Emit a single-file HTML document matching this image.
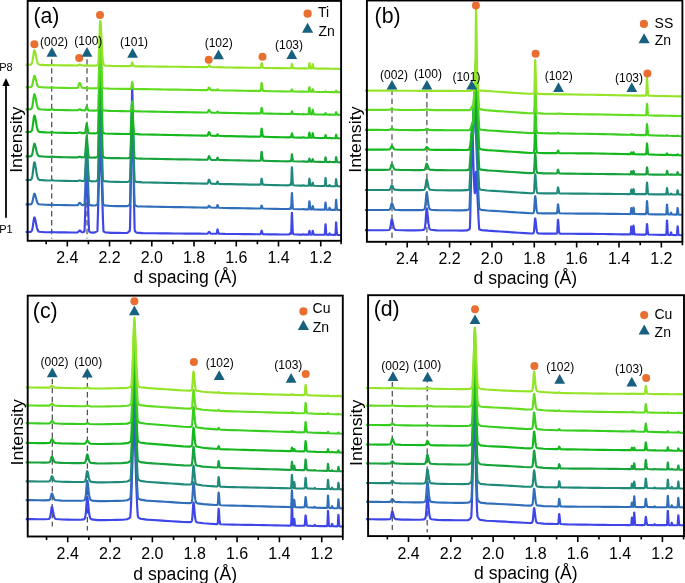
<!DOCTYPE html>
<html lang="en">
<head>
<meta charset="utf-8">
<title>XRD d-spacing patterns</title>
<style>
html,body{margin:0;padding:0;background:#fff;}
body{width:685px;height:583px;overflow:hidden;}
svg{display:block;will-change:transform;}
</style>
</head>
<body>
<svg width="685" height="583" viewBox="0 0 685 583" font-family='"Liberation Sans", sans-serif' fill="#000">
<rect width="685" height="583" fill="#fff"/>
<path d="M51.70,59.20V238.60" stroke="#505050" stroke-width="1.25" stroke-dasharray="5.45 3.48" fill="none"/>
<path d="M87.00,59.20V238.60" stroke="#505050" stroke-width="1.25" stroke-dasharray="5.45 3.48" fill="none"/>
<g fill="none" stroke-width="2.15" stroke-linejoin="round" stroke-linecap="butt">
<path stroke="#3e46e8" d="M25.65,232.03L30.45,231.86L31.05,231.64L31.45,231.28L31.85,230.58L32.25,229.33L32.65,227.38L33.85,219.12L34.05,218.16L34.25,217.59L34.40,217.46L34.65,217.65L34.85,218.07L35.25,219.48L36.85,227.47L37.45,229.53L37.85,230.45L38.25,231.07L38.65,231.47L39.25,231.79L45.45,232.20L50.65,232.25L51.25,232.07L51.65,231.86L52.05,231.81L53.45,232.27L59.65,232.38L65.65,232.44L71.85,232.50L77.25,232.47L77.85,232.26L78.25,231.93L79.25,230.64L79.45,230.51L79.65,230.48L80.05,230.62L81.45,231.88L82.05,232.18L82.65,232.23L83.45,231.98L84.45,231.35L84.65,228.58L85.25,211.57L86.45,165.60L86.65,160.88L86.70,160.64L86.85,162.33L88.45,216.36L88.85,226.65L89.05,230.42L89.25,231.63L90.45,232.31L93.05,232.65L95.05,232.38L96.65,231.64L97.25,231.23L97.45,230.39L100.05,144.37L100.25,140.93L100.30,140.77L100.45,141.94L100.65,146.25L103.05,221.87L103.45,230.92L103.65,231.51L105.25,232.38L111.45,232.87L117.65,232.93L123.85,232.99L126.85,232.87L127.85,232.54L128.65,231.97L129.85,230.47L130.05,225.39L130.45,206.08L132.05,90.94L132.20,87.07L132.25,87.45L132.45,95.24L134.05,202.38L134.45,221.51L134.65,228.38L134.85,230.96L135.85,232.13L136.65,232.67L142.85,233.17L149.05,233.22L155.25,233.28L161.45,233.34L167.65,233.39L173.85,233.45L180.05,233.51L186.25,233.57L192.45,233.62L198.65,233.68L204.85,233.73L207.25,233.70L207.65,233.57L208.05,233.19L208.65,232.17L208.85,231.93L209.05,231.88L209.25,231.96L210.45,233.33L210.85,233.59L216.25,233.79L216.45,233.73L216.65,233.51L216.85,232.94L217.25,230.41L217.45,229.50L217.50,229.45L217.65,229.66L218.25,232.40L218.45,233.08L218.65,233.49L218.85,233.69L225.05,233.92L231.25,233.98L237.45,234.04L243.65,234.10L249.85,234.15L256.05,234.21L260.25,234.20L260.45,234.15L260.65,234.00L260.85,233.62L261.05,232.87L261.45,230.92L261.60,230.66L261.65,230.68L261.85,231.03L262.45,233.15L262.65,233.65L262.85,233.95L263.05,234.12L269.25,234.33L275.45,234.39L281.65,234.45L287.85,234.49L289.05,234.45L289.25,234.35L289.45,234.13L289.85,233.44L290.05,233.34L290.25,233.45L290.65,233.86L290.85,233.92L291.05,233.42L291.25,231.31L291.45,226.14L291.65,218.45L291.85,213.01L291.90,212.74L292.05,213.96L292.65,228.90L292.85,231.90L293.05,233.41L293.25,234.04L293.45,234.28L299.65,234.61L302.65,234.60L303.25,234.32L303.45,234.30L304.45,234.62L308.25,234.67L308.45,234.64L308.65,234.48L308.85,233.90L309.25,231.25L309.40,230.80L309.45,230.83L309.65,231.43L310.05,233.48L310.25,234.15L310.45,234.50L310.65,234.63L311.65,234.69L311.85,234.61L312.05,234.29L312.25,233.39L312.45,231.94L312.65,230.88L312.70,230.83L312.85,231.07L313.45,233.89L313.65,234.39L313.85,234.62L320.05,234.80L324.45,234.78L324.65,234.64L324.85,233.95L325.05,231.69L325.45,224.42L325.50,224.25L325.65,224.98L326.05,230.71L326.25,232.96L326.45,234.15L326.65,234.62L326.85,234.77L328.65,234.85L328.85,234.76L329.05,234.43L329.45,233.40L329.50,233.38L329.65,233.49L330.25,234.63L330.45,234.80L334.85,234.90L335.05,234.87L335.25,234.71L335.45,233.88L335.65,231.22L336.05,222.64L336.10,222.45L336.25,223.31L336.65,230.06L336.85,232.72L337.05,234.12L337.25,234.68L337.45,234.86L341.85,235.00"/>
<path stroke="#316eba" d="M25.65,204.43L30.65,204.32L31.25,204.09L31.65,203.71L32.05,203.01L32.45,201.84L33.85,194.94L34.05,194.23L34.25,193.81L34.45,193.72L34.65,193.86L34.85,194.17L35.25,195.22L36.85,201.17L37.45,202.70L37.85,203.39L38.25,203.85L38.85,204.25L45.05,204.75L50.65,204.85L51.25,204.67L51.65,204.46L52.05,204.42L53.45,204.89L59.65,205.05L65.65,205.16L71.85,205.27L77.25,205.27L77.65,205.14L78.05,204.84L79.25,203.01L79.45,202.85L79.65,202.81L79.85,202.87L80.25,203.18L81.45,204.58L82.05,204.99L82.65,205.12L83.65,204.91L84.45,204.51L84.65,202.40L85.25,189.41L86.45,154.32L86.65,150.71L86.70,150.52L86.85,151.82L88.45,193.11L88.85,200.98L89.05,203.86L89.25,204.78L90.85,205.42L94.65,205.55L96.05,205.20L97.65,204.17L97.85,201.68L100.05,118.23L100.25,113.98L100.30,113.77L100.45,115.26L102.65,192.40L103.05,203.22L103.25,204.52L104.65,205.40L110.85,205.96L117.05,206.07L123.25,206.18L127.25,206.08L128.25,205.76L129.25,205.10L129.85,204.53L130.05,201.05L130.45,187.83L132.05,108.99L132.20,106.33L132.25,106.60L132.45,111.94L134.05,185.34L134.45,198.44L134.65,203.15L134.85,204.92L136.05,205.85L137.45,206.31L143.65,206.53L149.85,206.64L155.85,206.75L162.05,206.86L168.25,206.97L174.45,207.08L180.65,207.18L186.85,207.29L193.05,207.40L199.25,207.51L205.45,207.61L207.25,207.59L207.65,207.47L208.05,207.08L208.65,206.07L208.85,205.84L209.05,205.79L209.25,205.87L210.45,207.24L210.85,207.51L216.25,207.77L216.45,207.73L216.65,207.60L216.85,207.24L217.25,205.64L217.45,205.06L217.50,205.03L217.65,205.16L218.25,206.91L218.45,207.35L218.65,207.61L218.85,207.74L225.05,207.96L231.25,208.07L237.45,208.18L243.65,208.29L249.85,208.40L256.05,208.51L260.25,208.54L260.45,208.50L260.65,208.37L260.85,208.04L261.05,207.40L261.45,205.72L261.60,205.50L261.65,205.52L261.85,205.82L262.45,207.66L262.65,208.08L262.85,208.35L263.05,208.49L269.25,208.74L275.45,208.85L281.65,208.95L287.85,209.05L289.05,209.03L289.25,208.97L289.45,208.82L289.85,208.36L290.05,208.29L290.25,208.36L290.65,208.65L290.85,208.68L291.05,208.31L291.25,206.74L291.45,202.92L291.65,197.25L291.85,193.23L291.90,193.04L292.05,193.94L292.65,204.98L292.85,207.19L293.05,208.31L293.25,208.78L293.45,208.95L299.65,209.26L302.65,209.28L303.25,209.01L303.45,208.99L304.45,209.31L308.25,209.38L308.45,209.31L308.65,208.96L308.85,207.76L309.25,202.18L309.40,201.24L309.45,201.30L309.65,202.56L310.05,206.87L310.25,208.28L310.45,209.01L310.65,209.30L310.85,209.39L311.65,209.44L311.85,209.37L312.05,209.10L312.25,208.32L312.45,207.06L312.65,206.14L312.70,206.09L312.85,206.30L313.45,208.77L313.65,209.21L313.85,209.40L320.05,209.63L324.45,209.66L324.65,209.57L324.85,209.10L325.05,207.57L325.45,202.63L325.50,202.52L325.65,203.02L326.05,206.91L326.25,208.45L326.45,209.26L326.65,209.58L326.85,209.69L328.65,209.75L328.85,209.62L329.05,209.19L329.45,207.82L329.50,207.79L329.65,207.93L330.25,209.46L330.45,209.69L330.85,209.81L335.05,209.83L335.25,209.70L335.45,209.04L335.65,206.89L336.05,199.96L336.10,199.81L336.25,200.51L336.65,205.96L336.85,208.11L337.05,209.25L337.25,209.70L337.45,209.85L341.85,210.01"/>
<path stroke="#1f8a7a" d="M25.65,180.00L30.25,179.87L30.85,179.69L31.25,179.39L31.65,178.78L32.05,177.62L32.45,175.69L33.85,164.34L34.05,163.18L34.25,162.49L34.40,162.34L34.65,162.57L34.85,163.08L35.25,164.80L36.85,174.55L37.45,177.06L37.85,178.18L38.25,178.94L38.65,179.42L39.25,179.82L45.45,180.38L50.65,180.50L51.25,180.32L51.65,180.11L52.05,180.07L53.45,180.54L59.65,180.73L65.65,180.85L71.85,180.98L77.65,181.03L79.45,180.40L80.25,180.51L81.85,181.01L83.25,180.98L84.45,180.62L84.65,180.15L85.05,174.92L86.45,146.13L86.65,143.42L86.70,143.28L86.85,144.27L88.45,174.09L88.85,179.37L89.05,180.75L91.45,181.33L95.25,181.30L96.45,180.93L97.85,179.93L98.05,176.31L100.05,94.57L100.25,89.80L100.30,89.56L100.45,91.24L102.65,173.02L102.85,178.53L103.05,180.30L104.25,181.13L110.45,181.76L116.65,181.89L122.85,182.01L127.45,181.95L128.65,181.58L129.85,180.83L130.05,178.23L130.45,168.31L132.05,109.19L132.20,107.20L132.25,107.40L132.45,111.40L134.05,166.47L134.45,176.30L134.65,179.83L134.85,181.16L136.25,181.94L142.45,182.41L148.65,182.53L154.85,182.66L161.05,182.78L167.25,182.91L173.45,183.03L179.65,183.15L185.85,183.28L192.05,183.40L198.25,183.53L204.45,183.64L207.05,183.63L207.45,183.49L207.65,183.30L207.85,182.97L208.25,181.79L208.65,180.27L208.85,179.77L209.00,179.64L209.25,179.83L209.65,180.71L210.25,182.35L210.65,183.10L211.05,183.50L211.65,183.72L216.25,183.85L216.45,183.82L216.65,183.71L216.85,183.40L217.25,182.03L217.45,181.53L217.50,181.51L217.65,181.62L218.25,183.13L218.45,183.51L218.65,183.73L219.05,183.89L225.25,184.07L231.45,184.19L237.65,184.32L243.85,184.44L250.05,184.57L256.25,184.69L260.25,184.69L260.45,184.61L260.65,184.36L260.85,183.70L261.05,182.44L261.45,179.14L261.60,178.70L261.65,178.73L261.85,179.32L262.45,182.92L262.65,183.76L262.85,184.28L263.05,184.56L263.25,184.69L269.45,184.96L275.65,185.08L281.85,185.21L288.05,185.32L289.05,185.30L289.25,185.24L289.45,185.09L289.85,184.62L290.05,184.55L290.25,184.62L290.65,184.90L290.85,184.92L291.05,184.49L291.25,182.73L291.45,178.43L291.65,172.04L291.85,167.53L291.90,167.31L292.05,168.32L292.65,180.73L292.85,183.23L293.05,184.48L293.25,185.01L293.45,185.21L299.65,185.56L302.65,185.58L303.25,185.31L303.45,185.29L304.45,185.62L308.25,185.70L308.45,185.64L308.65,185.34L308.85,184.30L309.25,179.47L309.40,178.66L309.45,178.71L309.65,179.80L310.05,183.53L310.25,184.76L310.45,185.39L310.65,185.64L311.65,185.77L311.85,185.71L312.05,185.46L312.25,184.75L312.45,183.60L312.65,182.76L312.70,182.72L312.85,182.91L313.45,185.16L313.65,185.56L313.85,185.74L320.05,185.97L324.45,186.02L324.65,185.91L324.85,185.38L325.05,183.66L325.45,178.11L325.50,177.98L325.65,178.55L326.05,182.92L326.25,184.65L326.45,185.56L326.65,185.92L326.85,186.04L328.65,186.13L328.85,186.06L329.05,185.82L329.45,185.07L329.65,185.14L330.25,185.98L330.45,186.11L335.05,186.23L335.25,186.15L335.45,185.68L335.65,184.17L336.05,179.31L336.10,179.20L336.25,179.69L336.65,183.53L336.85,185.04L337.05,185.84L337.25,186.16L337.45,186.26L341.85,186.41"/>
<path stroke="#17a33c" d="M25.65,156.42L30.45,156.32L31.05,156.13L31.45,155.82L31.85,155.21L32.25,154.12L32.65,152.41L33.85,145.17L34.05,144.33L34.25,143.84L34.40,143.72L34.65,143.90L34.85,144.26L35.25,145.50L36.85,152.54L37.45,154.35L37.85,155.16L38.25,155.71L38.85,156.18L45.05,156.76L50.65,156.87L51.25,156.69L51.65,156.48L52.05,156.44L53.45,156.91L59.65,157.08L65.65,157.20L71.85,157.31L77.65,157.35L79.45,156.72L80.25,156.82L82.05,157.39L84.25,157.30L84.65,157.21L84.85,157.01L85.05,155.61L85.85,146.32L86.45,137.93L86.65,136.09L86.70,135.99L86.85,136.68L88.25,153.36L88.65,156.68L88.85,157.31L95.05,157.66L96.25,157.39L97.25,156.83L97.85,156.33L98.05,155.52L100.05,71.28L100.25,66.10L100.30,65.84L100.45,67.68L102.45,146.35L102.65,152.61L102.85,156.51L104.05,157.40L105.65,157.86L111.85,158.06L118.05,158.17L124.25,158.29L128.25,158.20L129.85,157.63L130.05,157.53L130.25,155.84L130.65,148.44L132.05,110.03L132.20,108.43L132.25,108.59L132.45,111.76L133.85,147.46L134.25,154.72L134.45,157.19L134.65,157.78L136.25,158.36L142.45,158.62L148.65,158.74L154.85,158.85L161.05,158.97L167.25,159.08L173.45,159.20L179.65,159.31L185.85,159.43L192.05,159.54L198.25,159.65L204.45,159.76L207.05,159.75L207.45,159.63L207.65,159.46L207.85,159.16L208.25,158.09L208.65,156.72L208.85,156.27L209.05,156.16L209.25,156.32L209.65,157.12L210.25,158.60L210.65,159.27L211.05,159.64L211.85,159.85L216.25,159.95L216.45,159.92L216.65,159.81L216.85,159.50L217.25,158.13L217.45,157.63L217.50,157.61L217.65,157.72L218.25,159.23L218.45,159.60L218.65,159.82L219.05,159.99L225.25,160.15L231.45,160.27L237.65,160.38L243.85,160.50L250.05,160.61L256.25,160.72L260.05,160.72L260.25,160.68L260.45,160.56L260.65,160.17L260.85,159.20L261.05,157.32L261.45,152.38L261.60,151.73L261.65,151.77L261.85,152.65L262.45,158.02L262.65,159.26L262.85,160.03L263.05,160.45L263.25,160.64L269.45,160.97L275.65,161.09L281.85,161.20L288.05,161.31L289.25,161.28L289.85,160.96L290.05,160.93L290.85,161.16L291.05,161.01L291.25,160.32L291.45,158.64L291.65,156.14L291.85,154.38L291.90,154.29L292.05,154.69L292.65,159.56L292.85,160.54L293.05,161.04L293.25,161.25L299.45,161.53L302.65,161.55L303.25,161.28L303.45,161.25L304.45,161.58L308.45,161.65L308.65,161.52L308.85,161.07L309.25,158.96L309.40,158.61L309.45,158.63L309.65,159.11L310.05,160.75L310.25,161.28L310.45,161.56L310.65,161.67L311.65,161.73L311.85,161.68L312.05,161.47L312.25,160.87L312.45,159.91L312.65,159.20L312.70,159.17L312.85,159.33L313.45,161.22L313.65,161.56L313.85,161.71L320.05,161.91L324.45,161.96L324.65,161.91L324.85,161.61L325.05,160.63L325.45,157.48L325.50,157.41L325.65,157.73L326.25,161.20L326.45,161.72L326.65,161.93L328.65,162.06L328.85,162.03L329.05,161.92L329.50,161.58L329.65,161.62L330.25,162.01L335.05,162.16L335.25,162.09L335.45,161.76L335.65,160.68L336.05,157.18L336.10,157.11L336.25,157.46L336.85,161.31L337.05,161.88L337.25,162.11L341.85,162.31"/>
<path stroke="#14b81e" d="M25.65,132.00L30.25,131.89L30.85,131.72L31.25,131.44L31.65,130.87L32.05,129.79L32.45,128.00L33.85,117.41L34.05,116.33L34.25,115.68L34.40,115.54L34.65,115.76L34.85,116.23L35.25,117.84L36.85,126.93L37.45,129.28L37.85,130.32L38.25,131.03L38.65,131.48L39.25,131.86L45.45,132.39L50.65,132.48L51.05,132.35L51.65,131.89L51.90,131.81L52.25,131.91L53.25,132.46L59.45,132.72L65.65,132.85L71.85,132.98L77.65,133.03L79.45,132.40L80.25,132.51L82.25,133.11L84.85,133.10L85.05,133.04L85.25,132.36L86.45,124.73L86.65,123.74L86.70,123.68L86.85,124.07L88.05,131.33L88.45,132.98L88.65,133.19L94.85,133.41L96.25,133.22L97.25,132.73L98.05,132.05L98.25,130.33L100.05,49.60L100.25,43.86L100.30,43.56L100.45,45.63L102.25,120.79L102.45,127.58L102.65,132.24L103.65,133.05L104.85,133.51L111.05,133.77L117.25,133.90L123.45,134.02L129.25,133.99L130.25,133.74L130.45,133.57L130.65,131.87L131.25,123.09L132.05,108.28L132.20,107.10L132.25,107.22L132.45,109.50L133.45,126.30L133.85,131.43L134.05,133.25L134.25,133.86L140.45,134.37L146.65,134.49L152.85,134.62L158.85,134.74L165.05,134.86L171.25,134.99L177.45,135.11L183.65,135.23L189.85,135.36L196.05,135.48L202.25,135.60L207.05,135.64L207.45,135.51L207.65,135.34L207.85,135.05L208.25,133.98L208.65,132.61L208.85,132.16L209.05,132.05L209.25,132.21L209.65,133.01L210.25,134.49L210.65,135.17L211.05,135.53L211.85,135.75L216.45,135.84L216.65,135.77L216.85,135.57L217.25,134.66L217.45,134.33L217.65,134.39L218.25,135.40L218.45,135.65L218.65,135.80L224.85,136.06L231.05,136.19L237.25,136.31L243.45,136.44L249.65,136.56L255.85,136.68L260.05,136.70L260.25,136.67L260.45,136.56L260.65,136.22L260.85,135.35L261.05,133.68L261.45,129.28L261.60,128.70L261.65,128.74L261.85,129.52L262.45,134.30L262.65,135.41L262.85,136.10L263.05,136.47L263.25,136.64L269.45,136.95L275.65,137.08L281.85,137.21L288.05,137.33L289.25,137.32L290.05,137.11L290.85,137.26L291.05,137.18L291.25,136.79L291.45,135.82L291.65,134.38L291.85,133.36L291.90,133.31L292.05,133.54L292.65,136.36L292.85,136.93L293.05,137.22L293.25,137.34L299.45,137.56L302.65,137.58L303.25,137.32L303.45,137.29L304.45,137.62L308.25,137.71L308.45,137.67L308.65,137.46L308.85,136.71L309.25,133.24L309.40,132.66L309.45,132.70L309.65,133.48L310.05,136.16L310.25,137.05L310.45,137.50L310.65,137.68L311.65,137.76L311.85,137.67L312.05,137.30L312.25,136.24L312.45,134.53L312.65,133.28L312.70,133.22L312.85,133.51L313.45,136.84L313.65,137.43L313.85,137.70L314.05,137.80L320.25,137.98L324.45,138.05L324.65,138.01L324.85,137.83L325.05,137.21L325.45,135.23L325.50,135.19L325.65,135.39L326.25,137.58L326.45,137.91L326.65,138.04L328.85,138.12L329.50,137.81L330.45,138.16L335.05,138.26L335.25,138.21L335.45,137.98L335.65,137.22L336.05,134.75L336.10,134.70L336.25,134.95L336.85,137.67L337.05,138.08L337.25,138.24L341.85,138.41"/>
<path stroke="#36cd20" d="M25.65,109.41L30.45,109.27L31.05,109.04L31.45,108.67L31.85,107.94L32.25,106.63L32.65,104.59L33.85,95.94L34.05,94.95L34.25,94.35L34.40,94.22L34.65,94.42L34.85,94.85L35.25,96.34L36.85,104.72L37.45,106.88L37.85,107.85L38.25,108.50L38.65,108.92L39.25,109.26L45.45,109.74L50.45,109.83L50.85,109.73L51.25,109.40L51.65,108.92L51.90,108.79L52.25,108.93L53.05,109.62L53.65,109.86L59.85,110.04L66.05,110.15L72.25,110.26L77.45,110.29L78.05,110.13L79.25,109.37L79.65,109.29L80.25,109.46L81.85,110.23L85.05,110.41L85.25,110.28L85.65,109.39L86.45,106.91L86.65,106.44L86.70,106.41L86.85,106.60L88.05,109.89L88.25,110.27L88.45,110.48L94.65,110.64L96.45,110.52L97.45,110.14L98.25,109.53L98.45,108.47L100.05,41.80L100.25,36.06L100.30,35.75L100.45,37.87L102.05,100.28L102.25,106.51L102.45,109.70L103.45,110.40L109.65,110.91L115.85,111.02L122.05,111.13L128.25,111.23L130.85,111.10L131.05,110.36L131.65,105.74L132.05,102.01L132.20,101.30L132.25,101.38L133.25,109.17L133.45,110.35L133.65,111.14L139.85,111.43L146.05,111.54L152.25,111.65L158.45,111.75L164.65,111.86L170.85,111.97L177.05,112.07L183.25,112.18L189.45,112.29L195.65,112.39L201.85,112.50L207.25,112.51L207.65,112.33L207.85,112.11L208.25,111.33L208.65,110.34L208.85,110.00L209.05,109.93L209.25,110.05L210.45,111.99L210.85,112.36L211.45,112.59L216.45,112.72L216.65,112.67L216.85,112.53L217.25,111.90L217.50,111.67L217.65,111.72L218.45,112.59L218.85,112.75L225.05,112.90L231.25,113.01L237.45,113.11L243.65,113.22L249.85,113.33L256.05,113.43L260.25,113.43L260.45,113.36L260.65,113.12L260.85,112.52L261.05,111.37L261.45,108.33L261.60,107.93L261.65,107.96L261.85,108.50L262.45,111.80L262.65,112.57L262.85,113.05L263.05,113.30L263.25,113.43L269.45,113.66L275.65,113.77L281.85,113.88L288.05,113.98L289.25,113.98L290.05,113.81L290.85,113.94L291.05,113.90L291.25,113.65L291.45,113.04L291.65,112.13L291.85,111.48L291.90,111.45L292.05,111.60L292.65,113.39L292.85,113.75L293.05,113.94L299.25,114.18L302.65,114.20L303.25,113.92L303.45,113.90L304.45,114.23L308.25,114.30L308.45,114.24L308.65,113.97L308.85,113.00L309.25,108.51L309.40,107.75L309.45,107.80L309.65,108.81L310.05,112.28L310.25,113.42L310.45,114.00L310.65,114.24L311.45,114.35L311.65,114.34L311.85,114.26L312.05,113.88L312.25,112.82L312.45,111.11L312.65,109.86L312.70,109.80L312.85,110.09L313.45,113.42L313.65,114.01L313.85,114.28L314.05,114.37L320.25,114.54L324.65,114.59L324.85,114.49L325.05,114.18L325.45,113.15L325.50,113.13L325.65,113.24L326.25,114.37L326.45,114.55L328.85,114.67L329.50,114.55L335.05,114.78L335.25,114.75L335.45,114.58L335.65,114.03L336.05,112.25L336.10,112.21L336.25,112.39L336.85,114.36L337.05,114.66L337.25,114.77L341.85,114.91"/>
<path stroke="#64dc20" d="M25.65,87.23L30.45,87.13L31.05,86.97L31.45,86.69L31.85,86.13L32.25,85.15L32.65,83.62L33.85,77.11L34.05,76.36L34.25,75.91L34.45,75.81L34.65,75.96L34.85,76.29L35.25,77.41L36.85,83.73L37.45,85.36L37.85,86.09L38.25,86.58L38.85,87.00L45.05,87.52L51.25,87.65L57.45,87.76L63.65,87.86L69.65,87.96L75.85,88.03L77.05,87.96L77.45,87.79L77.85,87.38L78.25,86.57L79.25,83.44L79.45,83.10L79.65,83.03L79.85,83.14L80.05,83.39L81.45,86.56L81.85,87.22L82.25,87.65L82.85,87.98L85.25,88.18L86.70,87.72L88.25,88.24L94.45,88.36L96.65,88.24L97.85,87.80L98.25,87.55L98.45,86.78L100.05,37.89L100.25,33.68L100.30,33.46L100.45,35.01L102.05,80.78L102.25,85.36L102.45,87.69L103.65,88.28L109.85,88.61L116.05,88.71L122.25,88.81L128.45,88.91L130.85,88.84L131.05,88.66L131.45,86.71L132.05,82.54L132.20,81.97L132.25,82.03L133.25,87.90L133.45,88.67L133.65,88.90L139.85,89.09L146.05,89.19L152.25,89.29L158.45,89.39L164.65,89.48L170.85,89.58L177.05,89.68L183.25,89.78L189.45,89.88L195.65,89.98L201.85,90.08L207.25,90.08L207.65,89.90L207.85,89.68L208.25,88.90L208.65,87.91L208.85,87.57L209.05,87.50L209.25,87.61L210.45,89.56L210.85,89.93L211.45,90.15L216.45,90.28L216.65,90.23L216.85,90.09L217.25,89.46L217.50,89.22L217.65,89.28L218.45,90.15L218.85,90.30L225.05,90.45L231.25,90.55L237.45,90.65L243.65,90.74L249.85,90.84L256.05,90.94L260.05,90.94L260.25,90.90L260.45,90.79L260.65,90.45L260.85,89.58L261.05,87.91L261.45,83.51L261.60,82.93L261.65,82.97L261.85,83.75L262.45,88.53L262.65,89.64L262.85,90.32L263.05,90.69L263.25,90.87L269.45,91.15L275.65,91.25L281.85,91.35L288.05,91.45L289.45,91.42L290.05,91.33L290.85,91.43L291.05,91.39L291.25,91.19L291.45,90.70L291.65,89.96L291.85,89.44L291.90,89.41L292.05,89.53L292.65,90.98L292.85,91.27L293.05,91.42L299.25,91.63L302.65,91.66L303.45,91.45L308.25,91.75L308.45,91.71L308.65,91.52L308.85,90.85L309.25,87.72L309.40,87.19L309.45,87.23L309.65,87.93L310.05,90.35L310.25,91.15L310.45,91.56L310.65,91.72L311.65,91.80L311.85,91.75L312.05,91.54L312.25,90.94L312.45,89.98L312.65,89.28L312.70,89.24L312.85,89.40L313.45,91.29L313.65,91.63L313.85,91.78L320.05,91.96L324.65,92.02L324.85,91.98L325.05,91.83L325.50,91.35L325.65,91.40L326.25,91.94L332.45,92.16L335.25,92.18L335.45,92.07L335.65,91.74L336.05,90.64L336.10,90.62L336.25,90.73L336.85,91.95L337.05,92.13L341.85,92.31"/>
<path stroke="#96e428" d="M25.65,64.82L30.45,64.67L31.05,64.45L31.45,64.09L31.85,63.39L32.25,62.14L32.65,60.20L33.85,51.94L34.05,50.98L34.25,50.42L34.40,50.29L34.65,50.48L34.85,50.89L35.25,52.31L36.85,60.31L37.45,62.37L37.85,63.29L38.25,63.91L38.65,64.30L39.25,64.63L45.45,65.06L51.65,65.18L57.85,65.27L64.05,65.35L70.25,65.43L76.45,65.50L77.65,65.43L78.25,65.20L79.25,64.54L79.65,64.45L80.25,64.61L81.85,65.37L85.25,65.60L86.70,65.33L88.25,65.63L94.45,65.64L96.85,65.48L97.25,65.34L97.45,65.20L97.65,64.95L97.85,64.52L98.05,63.79L98.25,62.61L98.45,60.79L98.65,58.14L99.05,49.85L99.85,26.66L100.05,22.73L100.25,20.90L100.30,20.82L100.45,21.19L100.65,22.75L101.05,28.94L102.05,50.06L102.45,56.39L102.85,60.64L103.25,63.14L103.45,63.92L103.65,64.47L103.85,64.85L104.25,65.28L104.85,65.53L111.05,65.90L117.25,66.02L123.45,66.11L129.65,66.19L130.85,66.15L131.05,66.05L131.45,64.96L132.05,62.65L132.20,62.33L132.25,62.36L133.25,65.64L133.45,66.07L133.65,66.19L139.85,66.33L146.05,66.41L152.25,66.49L158.45,66.57L164.65,66.65L170.85,66.73L177.05,66.80L183.25,66.88L189.45,66.96L195.65,67.04L201.85,67.12L207.25,67.13L207.65,66.99L207.85,66.83L208.25,66.26L208.65,65.52L208.85,65.27L209.05,65.22L209.25,65.30L210.45,66.74L210.85,67.02L216.65,67.29L217.50,67.07L223.65,67.40L229.85,67.48L236.05,67.56L242.25,67.64L248.45,67.72L254.65,67.79L260.25,67.80L260.45,67.74L260.65,67.53L260.85,67.01L261.05,65.99L261.45,63.33L261.60,62.99L261.65,63.01L261.85,63.48L262.45,66.37L262.65,67.04L262.85,67.46L263.05,67.68L263.45,67.84L269.65,67.98L275.85,68.07L282.05,68.15L288.25,68.22L289.45,68.18L290.05,68.08L290.85,68.15L291.05,68.05L291.25,67.63L291.45,66.61L291.65,65.09L291.85,64.02L291.90,63.97L292.05,64.21L292.65,67.17L292.85,67.76L293.05,68.06L293.25,68.19L299.45,68.37L302.65,68.38L303.45,68.17L308.25,68.45L308.45,68.41L308.65,68.18L308.85,67.39L309.25,63.71L309.40,63.09L309.45,63.13L309.65,63.96L310.05,66.80L310.25,67.73L310.45,68.21L310.65,68.40L311.65,68.48L311.85,68.39L312.05,68.03L312.25,67.02L312.45,65.39L312.65,64.19L312.70,64.13L312.85,64.40L313.45,67.59L313.65,68.15L313.85,68.40L314.25,68.53L320.45,68.63L324.85,68.66L325.50,68.35L326.45,68.69L332.65,68.79L335.45,68.80L336.10,68.49L337.05,68.82L341.85,68.91"/>
</g>
<rect x="27.65" y="0.90" width="313.45" height="239.90" fill="none" stroke="#000" stroke-width="1.9"/>
<text x="67.3" y="263.0" font-size="16.0" text-anchor="middle">2.4</text>
<text x="109.5" y="263.0" font-size="16.0" text-anchor="middle">2.2</text>
<text x="151.8" y="263.0" font-size="16.0" text-anchor="middle">2.0</text>
<text x="194.0" y="263.0" font-size="16.0" text-anchor="middle">1.8</text>
<text x="236.3" y="263.0" font-size="16.0" text-anchor="middle">1.6</text>
<text x="278.5" y="263.0" font-size="16.0" text-anchor="middle">1.4</text>
<text x="320.7" y="263.0" font-size="16.0" text-anchor="middle">1.2</text>
<path d="M46.18,241.30v2.90M67.30,241.30v5.30M88.42,241.30v2.90M109.54,241.30v5.30M130.66,241.30v2.90M151.78,241.30v5.30M172.90,241.30v2.90M194.02,241.30v5.30M215.14,241.30v2.90M236.26,241.30v5.30M257.38,241.30v2.90M278.50,241.30v5.30M299.62,241.30v2.90M320.74,241.30v5.30M341.10,241.30v2.90" stroke="#000" stroke-width="1.6" fill="none"/>
<text x="185.3" y="282.7" font-size="17.6" text-anchor="middle">d spacing (Å)</text>
<text transform="translate(22.0,139.7) rotate(-90) scale(1,0.92)" font-size="17.8" text-anchor="middle">Intensity</text>
<text x="33.4" y="23.0" font-size="21.3" text-anchor="start">(a)</text>
<circle cx="100.0" cy="15.0" r="4.00" fill="#e86f30"/>
<circle cx="34.4" cy="44.3" r="4.00" fill="#e86f30"/>
<circle cx="79.2" cy="58.0" r="4.00" fill="#e86f30"/>
<circle cx="208.7" cy="59.8" r="4.00" fill="#e86f30"/>
<circle cx="262.5" cy="56.8" r="4.00" fill="#e86f30"/>
<path d="M51.9,47.1L57.3,56.8L46.5,56.8Z" fill="#18607f"/>
<path d="M87.0,47.1L92.4,56.8L81.6,56.8Z" fill="#18607f"/>
<path d="M132.6,48.0L138.0,57.7L127.2,57.7Z" fill="#18607f"/>
<path d="M218.5,49.6L223.9,59.3L213.1,59.3Z" fill="#18607f"/>
<path d="M291.8,49.3L297.2,59.0L286.4,59.0Z" fill="#18607f"/>
<text x="54.1" y="45.5" font-size="12.0" text-anchor="middle">(002)</text>
<text x="88.3" y="44.6" font-size="12.0" text-anchor="middle">(100)</text>
<text x="134.1" y="46.4" font-size="12.0" text-anchor="middle">(101)</text>
<text x="218.7" y="47.1" font-size="12.0" text-anchor="middle">(102)</text>
<text x="289.0" y="49.0" font-size="12.0" text-anchor="middle">(103)</text>
<circle cx="307.6" cy="13.7" r="4.10" fill="#e86f30"/>
<path d="M307.6,22.7L313.2,32.7L302.0,32.7Z" fill="#18607f"/>
<text x="318.0" y="17.1" font-size="14.0" text-anchor="start">Ti</text>
<text x="318.4" y="35.6" font-size="14.0" text-anchor="start">Zn</text>
<text x="-0.8" y="70.8" font-size="11.0" text-anchor="start">P8</text>
<text x="-0.8" y="233.3" font-size="11.0" text-anchor="start">P1</text>
<path d="M6.0,217.8V84" stroke="#000" stroke-width="1.8" fill="none"/>
<path d="M6.0,78.0L9.7,85.9L2.3,85.9Z" fill="#000"/>
<path d="M392.00,89.60V241.00" stroke="#505050" stroke-width="1.25" stroke-dasharray="5.45 3.48" fill="none"/>
<path d="M426.90,84.17V241.00" stroke="#505050" stroke-width="1.25" stroke-dasharray="5.45 3.48" fill="none"/>
<g fill="none" stroke-width="2.15" stroke-linejoin="round" stroke-linecap="butt">
<path stroke="#3e46e8" d="M364.90,230.19L371.10,230.21L377.30,230.22L383.50,230.21L388.70,229.95L389.10,229.82L389.50,229.54L389.70,229.27L389.90,228.89L390.30,227.59L390.70,225.43L391.30,221.29L391.50,220.19L391.70,219.57L391.80,219.49L391.90,219.53L392.10,219.86L392.50,221.31L393.50,226.19L393.90,227.64L394.30,228.64L394.70,229.27L395.10,229.62L396.10,229.98L402.30,230.27L408.50,230.32L414.70,230.33L420.90,230.22L423.30,229.91L423.90,229.65L424.30,229.25L424.50,228.88L424.70,228.31L424.90,227.46L425.10,226.24L425.50,222.38L426.30,210.99L426.50,209.04L426.70,208.33L426.90,208.70L427.10,209.76L428.50,223.46L428.90,226.11L429.30,227.80L429.70,228.79L430.10,229.33L430.70,229.72L436.90,230.35L443.10,230.45L449.30,230.49L455.50,230.53L461.70,230.56L466.90,230.44L468.10,230.07L469.10,229.38L469.70,228.78L469.90,227.81L470.30,215.08L472.10,127.08L472.30,122.91L472.50,126.28L473.30,161.50L473.90,179.30L474.30,187.59L474.50,190.55L474.70,192.54L474.90,193.17L475.10,190.12L475.70,176.67L475.90,173.16L476.10,171.71L476.30,173.15L478.70,221.54L479.10,227.56L479.30,229.46L481.70,230.14L487.90,230.69L494.10,231.10L500.30,231.52L506.50,231.93L512.70,232.34L518.90,232.75L525.10,233.16L531.30,233.45L532.90,233.35L533.30,233.19L533.50,232.97L533.70,232.53L533.90,231.71L534.10,230.34L534.50,225.69L534.90,220.21L535.10,218.65L535.20,218.44L535.30,218.55L535.50,219.39L536.50,228.72L536.90,231.27L537.10,232.05L537.30,232.58L537.50,232.92L537.70,233.12L538.10,233.32L544.30,233.58L550.50,233.63L556.50,233.58L556.70,233.50L556.90,233.25L557.10,232.49L557.30,230.67L557.90,220.25L558.00,219.80L558.10,220.03L558.30,221.75L558.90,229.95L559.10,231.67L559.30,232.69L559.50,233.22L559.70,233.46L560.10,233.61L566.30,233.75L572.50,233.80L578.70,233.85L584.90,233.89L591.10,233.94L597.30,233.98L603.50,234.05L609.70,234.14L615.90,234.23L622.10,234.32L628.30,234.41L630.30,234.42L630.50,234.27L630.70,233.53L630.90,231.40L631.10,228.17L631.30,226.45L631.50,227.39L631.90,231.85L632.10,233.37L632.30,234.11L632.50,234.36L632.70,234.27L632.90,233.45L633.10,231.05L633.30,227.41L633.50,225.49L633.70,226.54L634.10,231.56L634.30,233.27L634.50,234.10L634.70,234.40L634.90,234.49L641.10,234.59L645.70,234.58L645.90,234.51L646.10,234.22L646.30,233.26L646.50,231.00L646.90,224.54L647.00,224.08L647.10,224.32L647.30,226.03L647.70,231.06L647.90,232.83L648.10,233.85L648.30,234.34L648.50,234.53L654.70,234.79L660.90,234.88L665.90,234.89L666.10,234.77L666.30,234.11L666.50,231.69L666.90,221.34L667.00,220.47L667.10,220.93L667.30,224.05L667.70,231.76L667.90,233.72L668.10,234.56L668.30,234.84L670.10,234.98L670.30,234.87L670.50,234.41L670.90,232.48L671.00,232.32L671.10,232.41L671.30,232.99L671.70,234.45L671.90,234.82L672.10,234.98L676.50,235.07L676.70,235.00L676.90,234.61L677.10,233.15L677.50,226.95L677.60,226.43L677.70,226.70L677.90,228.58L678.30,233.20L678.50,234.38L678.70,234.89L678.90,235.05L683.10,235.21"/>
<path stroke="#316eba" d="M364.90,209.99L371.10,210.01L377.30,210.03L383.50,210.03L388.90,209.84L389.30,209.72L389.70,209.45L390.10,208.86L390.50,207.78L391.50,203.73L391.70,203.34L391.80,203.29L391.90,203.32L392.10,203.53L392.50,204.44L393.50,207.51L393.90,208.43L394.30,209.06L394.70,209.45L395.30,209.75L401.50,210.08L407.70,210.13L413.90,210.14L420.10,210.09L423.30,209.81L423.90,209.60L424.30,209.28L424.50,208.98L424.70,208.52L424.90,207.84L425.10,206.85L425.50,203.75L426.30,194.57L426.50,193.00L426.70,192.43L426.90,192.73L427.10,193.59L428.50,204.62L428.90,206.75L429.30,208.12L429.70,208.91L430.10,209.35L430.90,209.72L437.10,210.18L443.30,210.26L449.50,210.30L455.70,210.33L461.90,210.36L466.50,210.18L468.10,209.66L469.30,208.89L469.50,207.62L469.90,198.97L472.10,126.35L472.30,123.73L472.50,123.87L472.70,123.57L473.10,123.78L473.30,122.68L474.10,105.85L474.30,103.92L474.50,107.29L475.30,129.15L475.50,132.47L475.70,133.56L475.90,135.21L476.10,138.72L478.50,196.43L479.10,207.00L479.30,209.11L481.10,209.82L487.30,210.45L493.50,210.86L499.70,211.28L505.90,211.69L512.10,212.10L518.30,212.52L524.50,212.92L530.70,213.26L533.10,213.10L533.30,213.02L533.50,212.84L533.70,212.47L533.90,211.71L534.10,210.33L534.30,208.14L534.90,198.47L535.10,196.50L535.20,196.23L535.30,196.37L535.50,197.44L536.50,208.59L536.70,210.14L536.90,211.27L537.10,212.03L537.30,212.51L537.50,212.80L537.90,213.07L544.10,213.36L550.30,213.40L556.50,213.38L556.70,213.33L556.90,213.16L557.10,212.66L557.30,211.47L557.90,204.65L558.00,204.36L558.10,204.51L558.30,205.64L558.90,211.00L559.10,212.13L559.30,212.80L559.50,213.14L559.70,213.30L565.90,213.50L572.10,213.54L578.30,213.57L584.50,213.61L590.70,213.65L596.90,213.68L603.10,213.74L609.30,213.81L615.50,213.89L621.70,213.96L627.90,214.04L630.30,214.05L630.50,213.94L630.70,213.39L630.90,211.79L631.10,209.36L631.30,208.08L631.50,208.78L631.90,212.13L632.10,213.27L632.30,213.82L632.50,214.01L632.70,213.95L632.90,213.36L633.10,211.62L633.30,209.00L633.50,207.61L633.70,208.37L634.10,211.99L634.30,213.23L634.50,213.83L634.70,214.05L640.90,214.19L645.70,214.15L645.90,214.06L646.10,213.71L646.30,212.52L646.50,209.72L646.90,201.73L647.00,201.17L647.10,201.47L647.30,203.58L647.70,209.78L647.90,211.97L648.10,213.23L648.30,213.83L648.50,214.08L654.70,214.36L660.90,214.44L665.90,214.45L666.10,214.37L666.30,213.92L666.50,212.27L666.90,205.20L667.00,204.61L667.10,204.92L667.30,207.05L667.70,212.32L667.90,213.66L668.10,214.23L668.30,214.42L670.10,214.52L670.30,214.44L670.50,214.12L670.90,212.76L671.00,212.65L671.10,212.71L671.70,214.15L671.90,214.41L672.10,214.52L676.50,214.59L676.70,214.54L676.90,214.24L677.10,213.12L677.50,208.34L677.60,207.94L677.70,208.15L677.90,209.60L678.30,213.16L678.50,214.07L678.70,214.45L678.90,214.58L683.10,214.71"/>
<path stroke="#1f8a7a" d="M364.90,189.99L371.10,190.01L377.30,190.03L383.50,190.04L389.10,189.88L389.50,189.75L389.90,189.47L390.30,188.89L391.50,185.60L391.70,185.33L391.90,185.31L392.10,185.46L392.50,186.10L393.50,188.27L394.10,189.17L394.70,189.64L400.90,190.09L407.10,190.14L413.30,190.16L419.50,190.14L423.70,189.90L424.10,189.77L424.50,189.47L424.70,189.19L424.90,188.78L425.10,188.18L425.50,186.29L426.30,180.73L426.50,179.78L426.70,179.43L426.90,179.61L427.10,180.13L428.50,186.83L428.90,188.12L429.30,188.95L429.70,189.44L430.30,189.78L436.50,190.21L442.70,190.27L448.90,190.31L455.10,190.33L461.30,190.36L466.90,190.15L468.90,189.47L469.30,189.23L469.50,187.10L470.30,172.71L471.90,134.44L472.10,130.53L472.30,128.73L472.50,128.30L473.10,123.74L473.30,120.91L474.10,96.49L474.30,92.51L474.50,93.51L475.30,106.40L475.50,108.69L475.90,110.46L476.10,113.40L478.50,175.18L479.10,186.72L479.30,189.03L481.10,189.79L487.30,190.45L493.50,190.86L499.70,191.28L505.90,191.69L512.10,192.10L518.30,192.52L524.50,192.92L530.70,193.26L533.10,193.12L533.30,193.06L533.50,192.93L533.70,192.62L533.90,191.96L534.10,190.65L534.30,188.38L534.90,177.06L535.10,174.58L535.20,174.24L535.30,174.41L535.50,175.76L536.30,186.68L536.70,190.46L536.90,191.56L537.10,192.25L537.30,192.67L537.50,192.90L537.90,193.11L544.10,193.38L550.30,193.43L556.50,193.44L556.70,193.41L556.90,193.30L557.10,192.96L557.30,192.17L557.90,187.59L558.00,187.40L558.10,187.50L558.30,188.26L558.90,191.86L559.10,192.61L559.30,193.06L559.50,193.29L559.90,193.44L566.10,193.55L572.30,193.60L578.50,193.64L584.70,193.69L590.90,193.73L597.10,193.78L603.30,193.83L609.50,193.89L615.70,193.95L621.90,194.01L628.10,194.07L630.30,194.08L630.50,194.00L630.70,193.58L630.90,192.39L631.10,190.57L631.30,189.60L631.50,190.13L631.90,192.64L632.10,193.50L632.30,193.91L632.50,194.05L632.70,194.00L632.90,193.55L633.10,192.22L633.30,190.19L633.50,189.12L633.70,189.71L634.10,192.50L634.30,193.45L634.50,193.91L634.70,194.08L640.90,194.19L645.70,194.15L645.90,194.08L646.10,193.76L646.30,192.71L646.50,190.22L646.90,183.16L647.00,182.66L647.10,182.92L647.30,184.79L647.70,190.28L647.90,192.22L648.10,193.34L648.30,193.87L648.50,194.08L654.70,194.33L660.90,194.39L665.90,194.41L666.10,194.36L666.30,194.07L666.50,193.02L666.90,188.52L667.00,188.15L667.10,188.35L667.30,189.70L667.70,193.05L667.90,193.91L668.10,194.27L668.30,194.39L670.10,194.47L670.30,194.43L670.50,194.28L670.90,193.64L671.00,193.58L671.10,193.61L671.70,194.30L671.90,194.42L676.50,194.52L676.70,194.49L676.90,194.29L677.10,193.58L677.50,190.51L677.60,190.25L677.70,190.39L677.90,191.31L678.30,193.60L678.50,194.19L678.70,194.44L683.10,194.60"/>
<path stroke="#17a33c" d="M364.90,169.89L371.10,169.91L377.30,169.93L383.50,169.94L388.90,169.78L389.50,169.58L389.90,169.24L390.30,168.54L390.70,167.38L391.30,165.16L391.50,164.57L391.70,164.24L391.80,164.20L391.90,164.22L392.10,164.40L392.50,165.17L393.50,167.79L394.10,168.87L394.50,169.30L395.10,169.64L401.30,169.99L407.50,170.04L413.70,170.06L419.90,170.06L423.90,169.89L424.30,169.78L424.70,169.50L424.90,169.25L425.30,168.40L426.30,164.41L426.50,163.84L426.70,163.63L426.90,163.74L427.10,164.05L428.50,168.09L428.90,168.86L429.30,169.36L429.70,169.66L435.90,170.12L442.10,170.18L448.30,170.21L454.50,170.23L460.70,170.26L466.90,170.13L469.10,169.59L469.30,169.49L469.50,168.07L470.30,158.44L471.90,132.72L472.10,130.07L472.30,128.83L472.50,128.45L473.10,124.87L473.30,122.33L474.10,98.27L474.30,93.39L474.50,91.87L474.70,91.83L474.90,91.95L475.10,91.88L475.30,91.51L475.50,90.79L475.90,88.14L476.10,89.43L478.70,158.45L479.10,166.36L479.30,168.86L481.10,169.67L487.30,170.35L493.50,170.77L499.70,171.18L505.90,171.59L512.10,172.00L518.30,172.42L524.50,172.83L530.70,173.17L533.10,173.05L533.50,172.92L533.70,172.71L533.90,172.19L534.10,171.07L534.30,168.93L534.90,156.52L535.10,153.57L535.20,153.16L535.30,153.37L535.50,154.99L536.30,167.23L536.50,169.40L536.70,170.92L536.90,171.88L537.10,172.45L537.30,172.76L537.50,172.93L543.70,173.33L549.90,173.42L556.10,173.48L556.70,173.45L556.90,173.38L557.10,173.17L557.30,172.66L557.90,169.74L558.00,169.62L558.10,169.68L558.30,170.17L558.90,172.47L559.10,172.96L559.30,173.25L559.50,173.40L565.70,173.60L571.90,173.68L578.10,173.75L584.30,173.82L590.50,173.89L596.70,173.96L602.90,174.03L609.10,174.10L615.30,174.17L621.50,174.23L627.70,174.30L630.30,174.32L630.50,174.27L630.70,173.98L630.90,173.16L631.10,171.90L631.30,171.24L631.50,171.61L631.90,173.34L632.10,173.93L632.30,174.21L632.50,174.31L632.70,174.28L632.90,173.96L633.10,173.03L633.30,171.61L633.50,170.87L633.70,171.28L634.10,173.23L634.30,173.90L634.50,174.22L634.70,174.34L640.90,174.44L645.70,174.44L645.90,174.40L646.10,174.20L646.30,173.56L646.50,172.04L646.90,167.72L647.00,167.41L647.10,167.57L647.30,168.72L647.70,172.08L647.90,173.27L648.10,173.96L648.30,174.28L648.50,174.41L654.70,174.59L660.90,174.66L665.90,174.70L666.10,174.67L666.30,174.49L666.50,173.84L666.90,171.06L667.00,170.83L667.10,170.95L667.30,171.80L667.70,173.87L667.90,174.40L668.10,174.63L670.30,174.74L670.50,174.66L670.90,174.30L671.10,174.29L671.70,174.67L676.70,174.80L676.90,174.68L677.10,174.23L677.50,172.31L677.60,172.15L677.70,172.23L678.30,174.25L678.50,174.62L678.70,174.78L683.10,174.91"/>
<path stroke="#14b81e" d="M364.90,149.59L371.10,149.61L377.30,149.63L383.50,149.65L389.10,149.52L389.70,149.33L390.10,149.01L390.50,148.40L391.50,146.14L391.70,145.92L391.90,145.91L392.10,146.03L392.50,146.54L393.70,148.53L394.30,149.12L395.10,149.47L401.30,149.71L407.50,149.75L413.70,149.77L419.90,149.79L424.30,149.67L424.70,149.55L425.10,149.27L425.50,148.77L426.30,147.28L426.50,147.02L426.70,146.93L426.90,146.98L427.30,147.33L428.50,148.92L429.10,149.40L430.10,149.70L436.30,149.85L442.50,149.89L448.70,149.91L454.90,149.94L461.10,149.96L467.30,149.88L469.30,149.58L469.50,148.89L470.30,144.23L472.10,130.35L472.30,129.69L472.50,129.46L473.10,127.56L473.30,125.61L474.30,97.98L475.90,68.19L476.10,67.60L476.30,70.80L478.70,137.60L479.10,145.90L479.30,148.52L481.10,149.35L487.30,150.06L493.50,150.49L499.70,150.92L505.90,151.34L512.10,151.77L518.30,152.19L524.50,152.61L530.70,152.96L533.30,152.79L533.50,152.72L533.70,152.56L533.90,152.14L534.10,151.11L534.30,148.91L534.50,145.00L534.90,133.54L535.10,129.51L535.20,128.94L535.30,129.23L535.50,131.46L536.30,147.00L536.50,149.40L536.70,150.95L536.90,151.86L537.10,152.34L537.30,152.59L537.70,152.79L543.90,153.08L550.10,153.14L556.30,153.17L556.90,153.10L557.10,152.96L557.30,152.60L557.90,150.58L558.00,150.50L558.10,150.54L558.30,150.88L558.90,152.47L559.10,152.81L559.30,153.01L559.70,153.16L565.90,153.25L572.10,153.30L578.30,153.34L584.50,153.39L590.70,153.43L596.90,153.48L603.10,153.57L609.30,153.70L615.50,153.84L621.70,153.97L627.90,154.11L630.50,154.13L630.70,153.98L630.90,153.53L631.10,152.84L631.30,152.48L631.50,152.69L631.90,153.64L632.10,153.97L632.30,154.13L632.50,154.19L632.70,154.17L632.90,153.99L633.10,153.46L633.30,152.66L633.50,152.23L633.70,152.47L634.10,153.59L634.30,153.98L634.50,154.16L640.70,154.39L645.70,154.41L645.90,154.34L646.10,154.04L646.30,153.04L646.50,150.66L646.90,143.90L647.00,143.43L647.10,143.68L647.30,145.47L647.70,150.73L647.90,152.59L648.10,153.66L648.30,154.17L648.50,154.38L654.70,154.69L660.90,154.83L666.10,154.92L666.30,154.85L666.50,154.59L666.90,153.46L667.00,153.36L667.10,153.42L667.70,154.62L667.90,154.84L668.30,154.97L670.30,155.02L671.00,154.80L672.10,155.07L676.70,155.16L676.90,155.13L677.10,154.98L677.50,154.35L677.60,154.29L677.70,154.33L678.30,155.01L678.50,155.14L683.10,155.31"/>
<path stroke="#36cd20" d="M364.90,129.89L371.10,129.91L377.30,129.94L383.50,129.96L389.50,129.87L390.10,129.68L390.70,129.23L391.50,128.41L391.80,128.30L392.10,128.36L393.90,129.59L400.10,130.01L406.30,130.05L412.50,130.07L418.70,130.09L424.70,130.00L425.30,129.78L426.50,128.87L426.70,128.83L427.10,128.92L428.70,129.81L434.90,130.15L441.10,130.18L447.30,130.21L453.50,130.23L459.70,130.26L465.90,130.28L469.70,130.11L469.90,130.04L470.30,129.26L472.10,123.69L472.30,123.35L472.50,123.35L473.10,123.61L473.30,122.64L473.90,111.28L475.70,67.27L475.90,63.30L476.10,61.74L476.30,63.54L478.70,119.76L479.10,126.80L479.30,129.03L481.30,129.75L487.50,130.35L493.70,130.75L499.90,131.16L506.10,131.56L512.30,131.96L518.50,132.35L524.70,132.75L530.90,133.07L533.30,132.92L533.70,132.76L533.90,132.46L534.10,131.65L534.30,129.65L534.50,125.62L534.90,112.02L535.10,106.82L535.20,106.07L535.30,106.46L535.50,109.36L536.10,124.15L536.30,127.75L536.50,130.14L536.70,131.53L536.90,132.27L537.10,132.63L537.30,132.81L543.50,133.25L549.70,133.35L555.90,133.43L556.90,133.42L557.30,133.27L557.90,132.68L558.10,132.67L559.10,133.35L565.30,133.55L571.50,133.63L577.70,133.71L583.90,133.79L590.10,133.87L596.30,133.95L602.50,134.07L608.70,134.23L614.90,134.40L621.10,134.56L627.30,134.73L630.50,134.80L630.70,134.74L630.90,134.56L631.10,134.28L631.30,134.14L631.50,134.22L631.90,134.62L632.10,134.76L632.50,134.86L632.90,134.80L633.10,134.62L633.30,134.34L633.50,134.19L633.70,134.28L634.10,134.68L634.30,134.82L640.50,135.08L645.70,135.14L645.90,135.06L646.10,134.76L646.30,133.76L646.50,131.39L646.90,124.63L647.00,124.15L647.10,124.41L647.30,126.20L647.70,131.46L647.90,133.32L648.10,134.39L648.30,134.91L648.50,135.11L654.70,135.46L660.90,135.62L666.30,135.73L666.50,135.64L666.90,135.22L667.10,135.21L667.70,135.67L668.10,135.80L674.10,135.98L676.90,136.02L677.10,135.95L677.50,135.60L677.70,135.59L678.30,135.98L683.10,136.22"/>
<path stroke="#64dc20" d="M364.90,109.79L371.10,109.82L377.30,109.84L383.50,109.86L389.50,109.78L390.10,109.62L390.70,109.22L391.50,108.49L391.90,108.40L392.30,108.54L393.90,109.54L400.10,109.92L406.30,109.95L412.50,109.97L418.70,110.00L424.70,109.94L425.50,109.70L426.50,109.16L426.90,109.15L429.10,109.90L435.30,110.06L441.50,110.09L447.70,110.11L453.90,110.14L460.10,110.16L466.30,110.18L469.90,110.06L470.10,110.03L470.70,109.21L472.10,106.40L472.30,106.18L472.50,106.23L473.10,106.93L473.30,106.38L473.90,98.29L475.70,62.72L475.90,59.45L476.10,58.03L476.30,59.22L478.70,102.09L479.10,107.47L479.30,109.17L485.50,110.15L491.70,110.61L497.90,111.06L504.10,111.51L510.30,111.96L516.50,112.41L522.70,112.86L528.90,113.30L533.10,113.28L533.70,113.12L533.90,112.93L534.10,112.36L534.30,110.71L534.50,106.84L535.10,84.47L535.20,83.48L535.30,84.00L535.50,87.75L536.10,105.30L536.30,108.97L536.50,111.15L536.70,112.29L536.90,112.82L537.10,113.07L543.30,113.59L549.50,113.70L555.70,113.80L557.10,113.80L558.00,113.54L564.10,113.93L570.30,114.03L576.50,114.13L582.70,114.23L588.90,114.33L595.10,114.42L601.30,114.53L607.50,114.65L613.70,114.77L619.90,114.89L626.10,115.01L630.50,115.08L630.70,115.05L631.30,114.71L632.10,115.07L632.70,115.13L633.10,115.01L633.50,114.80L634.30,115.12L640.50,115.28L645.70,115.30L645.90,115.22L646.10,114.91L646.30,113.86L646.50,111.38L646.90,104.31L647.00,103.81L647.10,104.08L647.30,105.95L647.70,111.44L647.90,113.38L648.10,114.50L648.30,115.04L648.50,115.25L654.70,115.56L660.90,115.68L667.10,115.80L673.10,115.92L679.30,116.04L683.10,116.11"/>
<path stroke="#96e428" d="M364.90,90.59L371.10,90.62L377.30,90.64L383.50,90.66L389.70,90.69L395.90,90.71L402.10,90.74L408.30,90.76L414.50,90.78L420.70,90.81L426.90,90.83L433.10,90.86L439.30,90.88L445.50,90.90L451.70,90.93L457.90,90.95L464.10,90.96L470.10,90.93L472.30,90.06L473.90,90.29L474.30,90.21L474.50,90.08L474.70,89.72L474.90,88.58L475.10,85.24L475.30,77.08L475.50,61.44L475.90,17.28L476.10,7.84L476.30,12.87L477.10,71.63L477.30,80.26L477.50,85.33L477.70,87.96L477.90,89.20L478.10,89.76L478.30,90.02L478.90,90.32L485.10,90.86L491.30,91.30L497.50,91.72L503.70,92.14L509.90,92.56L516.10,92.97L522.30,93.38L528.50,93.78L533.30,93.75L533.70,93.65L533.90,93.52L534.10,93.15L534.30,91.91L534.50,88.36L534.70,80.86L535.10,61.32L535.20,59.97L535.30,60.68L535.50,65.72L535.90,81.01L536.10,86.80L536.30,90.39L536.50,92.26L536.70,93.11L536.90,93.46L537.10,93.62L543.30,94.07L549.50,94.17L555.70,94.26L561.90,94.35L568.10,94.44L574.30,94.53L580.50,94.62L586.70,94.71L592.90,94.80L599.10,94.89L605.30,95.00L611.50,95.11L617.70,95.22L623.90,95.33L630.10,95.45L636.30,95.56L642.50,95.66L645.50,95.63L645.70,95.59L645.90,95.47L646.10,94.99L646.30,93.36L646.50,89.53L646.90,78.63L647.00,77.86L647.10,78.26L647.30,81.15L647.70,89.62L647.90,92.61L648.10,94.34L648.30,95.16L648.50,95.49L648.70,95.62L654.90,95.89L661.10,96.01L667.30,96.12L673.50,96.24L679.70,96.35L683.10,96.41"/>
</g>
<rect x="366.90" y="0.50" width="315.50" height="241.30" fill="none" stroke="#000" stroke-width="1.9"/>
<text x="407.2" y="264.2" font-size="16.0" text-anchor="middle">2.4</text>
<text x="449.6" y="264.2" font-size="16.0" text-anchor="middle">2.2</text>
<text x="491.9" y="264.2" font-size="16.0" text-anchor="middle">2.0</text>
<text x="534.3" y="264.2" font-size="16.0" text-anchor="middle">1.8</text>
<text x="576.6" y="264.2" font-size="16.0" text-anchor="middle">1.6</text>
<text x="619.0" y="264.2" font-size="16.0" text-anchor="middle">1.4</text>
<text x="661.4" y="264.2" font-size="16.0" text-anchor="middle">1.2</text>
<path d="M386.02,242.30v2.90M407.20,242.30v5.30M428.38,242.30v2.90M449.56,242.30v5.30M470.74,242.30v2.90M491.92,242.30v5.30M513.10,242.30v2.90M534.28,242.30v5.30M555.46,242.30v2.90M576.64,242.30v5.30M597.82,242.30v2.90M619.00,242.30v5.30M640.18,242.30v2.90M661.36,242.30v5.30M682.40,242.30v2.90" stroke="#000" stroke-width="1.6" fill="none"/>
<text x="525.4" y="284.1" font-size="17.6" text-anchor="middle">d spacing (Å)</text>
<text transform="translate(360.8,139.6) rotate(-90) scale(1,0.92)" font-size="17.8" text-anchor="middle">Intensity</text>
<text x="374.6" y="22.9" font-size="21.3" text-anchor="start">(b)</text>
<circle cx="475.9" cy="5.5" r="4.00" fill="#e86f30"/>
<circle cx="535.6" cy="53.8" r="4.00" fill="#e86f30"/>
<circle cx="647.4" cy="73.6" r="4.00" fill="#e86f30"/>
<path d="M392.0,79.9L397.4,89.6L386.6,89.6Z" fill="#18607f"/>
<path d="M426.9,79.9L432.3,89.6L421.5,89.6Z" fill="#18607f"/>
<path d="M471.7,79.9L477.1,89.6L466.3,89.6Z" fill="#18607f"/>
<path d="M558.5,82.3L563.9,92.0L553.1,92.0Z" fill="#18607f"/>
<path d="M631.8,82.3L637.2,92.0L626.4,92.0Z" fill="#18607f"/>
<text x="394.0" y="78.8" font-size="12.0" text-anchor="middle">(002)</text>
<text x="427.9" y="78.0" font-size="12.0" text-anchor="middle">(100)</text>
<text x="466.4" y="80.5" font-size="12.0" text-anchor="middle">(101)</text>
<text x="558.7" y="80.0" font-size="12.0" text-anchor="middle">(102)</text>
<text x="629.0" y="82.3" font-size="12.0" text-anchor="middle">(103)</text>
<circle cx="643.9" cy="23.9" r="4.10" fill="#e86f30"/>
<path d="M644.1,33.3L649.7,43.3L638.5,43.3Z" fill="#18607f"/>
<text x="654.6" y="27.5" font-size="14.0" text-anchor="start">SS</text>
<text x="654.8" y="45.2" font-size="14.0" text-anchor="start">Zn</text>
<path d="M52.30,378.90V526.50" stroke="#505050" stroke-width="1.25" stroke-dasharray="5.45 3.48" fill="none"/>
<path d="M87.40,374.07V530.50" stroke="#505050" stroke-width="1.25" stroke-dasharray="5.45 3.48" fill="none"/>
<g fill="none" stroke-width="2.15" stroke-linejoin="round" stroke-linecap="butt">
<path stroke="#3e46e8" d="M25.70,519.06L31.90,519.15L38.10,519.24L44.30,519.27L48.50,519.02L49.10,518.81L49.50,518.48L49.70,518.19L49.90,517.78L50.30,516.40L50.70,514.12L51.50,508.10L51.70,507.13L51.90,506.78L52.10,506.97L52.30,507.50L53.70,514.78L54.10,516.37L54.50,517.48L54.90,518.19L55.30,518.62L55.90,518.96L62.10,519.54L68.10,519.68L74.30,519.77L80.50,519.74L83.50,519.41L84.10,519.18L84.50,518.87L84.70,518.62L84.90,518.24L85.10,517.68L85.30,516.87L85.50,515.71L85.90,512.11L86.90,498.46L87.10,497.11L87.20,496.94L87.30,497.03L87.50,497.75L87.90,500.88L88.90,511.22L89.30,514.27L89.70,516.38L90.10,517.71L90.50,518.48L90.90,518.93L91.70,519.37L97.90,520.07L104.10,520.10L110.30,519.99L116.50,519.87L122.70,519.71L126.90,519.25L128.70,518.52L129.90,517.64L130.10,517.44L130.30,516.31L130.70,511.00L131.30,498.10L132.50,459.65L133.50,421.96L133.70,416.58L133.90,414.42L134.10,416.20L134.50,426.79L136.30,485.59L137.10,504.71L137.50,511.62L137.70,514.24L137.90,516.16L138.10,517.06L139.10,518.02L140.50,518.75L146.70,519.60L152.90,520.03L159.10,520.44L165.30,520.84L171.50,521.24L177.70,521.64L183.90,522.01L190.10,522.14L190.90,521.97L191.30,521.74L191.50,521.51L191.70,521.11L191.90,520.44L192.10,519.34L192.30,517.69L192.70,512.45L193.10,505.88L193.30,503.41L193.50,502.48L193.70,502.99L193.90,504.38L194.90,515.61L195.30,518.74L195.70,520.59L195.90,521.16L196.10,521.56L196.50,522.03L197.50,522.50L203.70,523.27L209.90,523.71L216.10,524.09L217.10,524.08L217.30,524.03L217.50,523.82L217.70,523.15L217.90,521.42L218.10,518.11L218.50,509.69L218.64,508.70L218.70,508.79L218.90,510.37L219.50,519.63L219.70,521.75L219.90,523.06L220.10,523.75L220.30,524.07L220.50,524.21L226.70,524.50L232.90,524.61L239.10,524.72L245.30,524.83L251.50,524.94L257.70,525.04L263.90,525.15L270.10,525.25L276.30,525.36L282.50,525.47L288.70,525.57L290.70,525.60L290.90,525.50L291.10,524.90L291.30,522.42L291.50,516.31L291.70,507.94L291.90,503.73L292.10,506.02L292.50,517.52L292.70,521.89L292.90,524.25L293.10,525.22L293.30,525.46L293.50,525.14L293.70,523.87L294.10,519.22L294.20,518.87L294.30,519.05L294.50,520.36L294.90,523.91L295.10,524.95L295.30,525.44L295.50,525.62L301.70,525.77L304.10,525.69L304.30,525.62L304.50,525.42L304.70,524.85L304.90,523.52L305.50,515.81L305.60,515.46L305.70,515.64L305.90,516.96L306.50,523.01L306.70,524.27L306.90,525.03L307.10,525.42L307.30,525.62L313.50,525.99L313.90,525.94L314.10,525.80L314.50,525.10L314.70,524.91L314.90,525.02L315.50,525.80L315.70,525.94L321.90,526.14L326.90,526.15L327.10,526.02L327.30,525.33L327.50,522.78L327.90,511.86L328.00,510.94L328.10,511.42L328.30,514.72L328.70,522.85L328.90,524.93L329.10,525.81L329.30,526.10L331.10,526.26L331.30,526.16L331.50,525.74L331.90,523.95L332.00,523.80L332.10,523.88L332.30,524.42L332.70,525.77L332.90,526.12L333.10,526.27L337.30,526.35L337.50,526.25L337.70,525.73L337.90,523.81L338.30,515.61L338.40,514.92L338.50,515.28L338.70,517.76L339.10,523.88L339.30,525.44L339.50,526.10L339.70,526.32L343.70,526.51"/>
<path stroke="#316eba" d="M25.70,500.06L31.90,500.16L38.10,500.25L44.30,500.31L48.90,500.14L49.50,499.91L49.90,499.53L50.30,498.77L50.70,497.52L51.50,494.21L51.70,493.67L51.90,493.48L52.10,493.58L52.30,493.88L53.90,498.37L54.30,499.12L54.70,499.62L55.30,500.03L61.50,500.57L67.70,500.70L73.90,500.78L80.10,500.78L83.50,500.48L84.10,500.29L84.50,500.02L84.70,499.80L84.90,499.48L85.10,498.99L85.30,498.28L85.50,497.28L85.90,494.14L86.90,482.26L87.10,481.09L87.20,480.94L87.30,481.02L87.50,481.65L87.90,484.37L88.90,493.37L89.30,496.03L89.70,497.87L90.10,499.02L90.50,499.70L90.90,500.09L92.10,500.57L98.30,501.10L104.50,501.10L110.70,500.99L116.90,500.86L123.10,500.71L127.10,500.26L128.90,499.50L130.10,498.57L130.30,498.36L130.50,497.23L130.70,494.84L131.10,487.60L131.90,465.74L133.70,397.36L133.90,393.03L134.00,392.42L134.10,392.92L134.30,396.54L136.50,470.42L137.10,485.09L137.50,492.42L137.70,495.17L137.90,497.15L138.10,497.97L139.10,498.99L140.30,499.68L146.50,500.58L152.70,501.00L158.90,501.40L165.10,501.80L171.30,502.19L177.50,502.58L183.70,502.95L189.90,503.08L190.90,502.88L191.30,502.64L191.50,502.39L191.70,501.98L191.90,501.27L192.10,500.12L192.30,498.38L192.70,492.88L193.10,485.98L193.30,483.39L193.50,482.41L193.70,482.95L193.90,484.41L194.90,496.18L195.30,499.47L195.70,501.42L195.90,502.01L196.10,502.43L196.50,502.92L197.30,503.34L203.50,504.17L209.70,504.61L215.90,504.99L217.10,505.01L217.30,504.97L217.50,504.80L217.70,504.26L217.90,502.87L218.10,500.20L218.50,493.40L218.64,492.60L218.70,492.67L218.90,493.96L219.50,501.44L219.70,503.15L219.90,504.21L220.10,504.77L220.30,505.03L220.70,505.20L226.90,505.46L233.10,505.62L239.30,505.78L245.50,505.94L251.70,506.10L257.90,506.25L264.10,506.41L270.30,506.57L276.50,506.72L282.70,506.88L288.90,507.04L290.70,507.07L290.90,507.01L291.10,506.54L291.30,504.63L291.50,499.91L291.70,493.46L291.90,490.21L292.10,491.98L292.50,500.86L292.70,504.24L292.90,506.06L293.10,506.81L293.30,506.97L293.50,506.60L293.70,505.24L294.10,500.25L294.20,499.87L294.30,500.07L294.50,501.48L294.90,505.30L295.10,506.41L295.30,506.94L295.50,507.13L301.70,507.34L304.10,507.28L304.30,507.21L304.50,507.01L304.70,506.44L304.90,505.11L305.50,497.40L305.60,497.06L305.70,497.24L305.90,498.56L306.50,504.62L306.70,505.88L306.90,506.63L307.10,507.03L307.30,507.23L313.50,507.65L313.90,507.62L314.10,507.50L314.50,506.93L314.70,506.78L314.90,506.87L315.50,507.52L315.90,507.69L322.10,507.87L326.90,507.93L327.10,507.83L327.30,507.27L327.50,505.19L327.90,496.27L328.00,495.52L328.10,495.92L328.30,498.61L328.70,505.26L328.90,506.96L329.10,507.68L329.30,507.92L331.10,508.07L331.30,507.99L331.50,507.66L331.90,506.23L332.00,506.12L332.10,506.18L332.70,507.70L332.90,507.98L333.10,508.10L337.30,508.21L337.50,508.14L337.70,507.74L337.90,506.24L338.30,499.82L338.40,499.29L338.50,499.57L338.70,501.51L339.10,506.30L339.30,507.52L339.50,508.05L339.70,508.22L343.70,508.42"/>
<path stroke="#1f8a7a" d="M25.70,481.26L31.90,481.36L38.10,481.45L44.30,481.52L48.90,481.41L49.50,481.23L49.90,480.93L50.30,480.33L50.70,479.35L51.50,476.75L51.70,476.33L51.90,476.18L52.10,476.26L52.30,476.50L53.90,480.03L54.50,480.84L55.10,481.26L61.30,481.78L67.50,481.90L73.70,482.00L79.90,482.05L83.90,481.85L84.50,481.66L84.90,481.36L85.10,481.09L85.30,480.70L85.70,479.40L86.10,477.23L86.70,473.00L86.90,471.87L87.10,471.22L87.20,471.14L87.30,471.19L87.50,471.53L87.90,473.04L88.90,478.02L89.30,479.49L89.70,480.51L90.10,481.15L90.50,481.52L91.30,481.87L97.50,482.33L103.50,482.34L109.70,482.22L115.90,482.09L122.10,481.95L127.10,481.53L128.90,480.84L130.10,479.95L130.50,479.52L130.70,478.43L130.90,475.97L131.30,468.44L132.10,445.61L133.70,382.19L133.90,376.10L134.10,373.62L134.30,375.67L136.50,450.83L137.10,466.06L137.50,473.62L137.70,476.42L137.90,478.40L138.10,479.12L139.10,480.19L140.30,480.90L146.50,481.80L152.70,482.24L158.90,482.67L165.10,483.09L171.30,483.51L177.50,483.92L183.70,484.31L189.90,484.49L190.90,484.32L191.30,484.10L191.50,483.88L191.70,483.50L191.90,482.85L192.10,481.80L192.30,480.21L192.70,475.18L193.10,468.87L193.30,466.51L193.50,465.61L193.70,466.10L193.90,467.44L194.90,478.23L195.30,481.23L195.70,483.02L195.90,483.57L196.10,483.95L196.50,484.41L202.70,485.55L208.90,486.02L215.10,486.44L217.10,486.52L217.30,486.49L217.50,486.37L217.70,485.96L217.90,484.90L218.10,482.87L218.50,477.70L218.64,477.10L218.70,477.15L218.90,478.13L219.50,483.84L219.70,485.16L219.90,485.97L220.10,486.40L220.30,486.60L226.50,486.92L232.70,487.06L238.90,487.20L245.10,487.33L251.30,487.46L257.50,487.59L263.70,487.72L269.90,487.85L276.10,487.99L282.30,488.12L288.50,488.25L290.70,488.29L290.90,488.23L291.10,487.86L291.30,486.35L291.50,482.61L291.70,477.49L291.90,474.92L292.10,476.32L292.50,483.36L292.70,486.04L292.90,487.49L293.10,488.08L293.30,488.20L293.50,487.88L293.70,486.70L294.10,482.39L294.20,482.07L294.30,482.24L294.50,483.46L294.90,486.75L295.10,487.71L295.30,488.17L295.50,488.33L301.70,488.51L304.10,488.43L304.30,488.36L304.50,488.15L304.70,487.56L304.90,486.18L305.50,478.17L305.60,477.81L305.70,478.00L305.90,479.37L306.50,485.66L306.70,486.96L306.90,487.75L307.10,488.16L307.30,488.36L313.50,488.77L313.90,488.74L314.10,488.62L314.50,488.05L314.70,487.90L314.90,487.99L315.50,488.63L315.90,488.80L322.10,488.96L326.90,489.02L327.10,488.94L327.30,488.52L327.50,486.97L327.90,480.34L328.00,479.78L328.10,480.08L328.30,482.08L328.70,487.03L328.90,488.29L329.10,488.83L329.30,489.01L331.10,489.13L331.30,489.07L331.50,488.82L331.90,487.75L332.00,487.66L332.10,487.71L332.70,488.85L332.90,489.06L333.30,489.18L337.30,489.25L337.50,489.20L337.70,488.91L337.90,487.83L338.30,483.19L338.40,482.81L338.50,483.01L338.70,484.41L339.10,487.87L339.30,488.76L339.50,489.13L339.70,489.26L343.70,489.42"/>
<path stroke="#17a33c" d="M25.70,462.36L31.90,462.46L38.10,462.55L44.30,462.62L48.90,462.47L49.50,462.27L49.90,461.92L50.30,461.24L50.70,460.11L51.50,457.14L51.70,456.65L51.90,456.48L52.10,456.58L52.30,456.84L53.90,460.89L54.30,461.56L54.70,462.01L55.30,462.38L61.50,462.88L67.70,463.01L73.90,463.11L80.10,463.16L84.10,462.98L84.70,462.77L85.10,462.41L85.30,462.10L85.70,461.06L86.10,459.32L86.70,455.93L86.90,455.02L87.10,454.51L87.20,454.44L87.30,454.48L87.50,454.76L87.90,455.96L88.90,459.96L89.30,461.14L89.70,461.96L90.10,462.47L90.70,462.87L96.90,463.43L103.10,463.45L109.30,463.33L115.50,463.20L121.70,463.06L127.30,462.65L128.90,462.08L130.10,461.25L130.70,460.62L130.90,459.16L131.30,452.84L131.90,437.77L133.90,362.07L134.10,358.39L134.15,358.22L134.30,359.43L134.50,364.09L136.30,427.74L137.10,448.58L137.50,455.82L137.70,458.39L137.90,460.01L138.10,460.38L139.10,461.40L140.30,462.07L146.50,462.90L152.70,463.33L158.90,463.75L165.10,464.16L171.30,464.57L177.50,464.97L183.70,465.36L189.90,465.54L190.90,465.36L191.30,465.15L191.50,464.93L191.70,464.55L191.90,463.91L192.10,462.87L192.30,461.30L192.70,456.32L193.10,450.07L193.30,447.73L193.50,446.85L193.70,447.33L193.90,448.66L194.90,459.33L195.30,462.31L195.70,464.07L195.90,464.61L196.10,464.99L196.50,465.45L202.70,466.57L208.90,467.03L215.10,467.45L217.30,467.53L217.50,467.45L217.70,467.17L217.90,466.45L218.10,465.06L218.50,461.51L218.64,461.10L218.70,461.14L218.90,461.82L219.50,465.75L219.70,466.66L219.90,467.22L220.10,467.52L220.30,467.66L226.50,467.98L232.70,468.17L238.90,468.35L245.10,468.53L251.30,468.71L257.50,468.90L263.70,469.08L269.90,469.26L276.10,469.44L282.30,469.62L288.50,469.81L290.70,469.87L290.90,469.84L291.10,469.62L291.30,468.70L291.50,466.45L291.70,463.36L291.90,461.80L292.10,462.66L292.50,466.92L292.70,468.54L292.90,469.42L293.10,469.78L293.30,469.85L293.50,469.63L293.70,468.83L294.10,465.89L294.20,465.67L294.30,465.79L294.50,466.62L294.90,468.88L295.10,469.54L295.30,469.85L295.50,469.97L301.70,470.17L304.10,470.11L304.30,470.04L304.50,469.84L304.70,469.25L304.90,467.87L305.50,459.87L305.60,459.51L305.70,459.70L305.90,461.07L306.50,467.36L306.70,468.67L306.90,469.45L307.10,469.87L307.30,470.07L313.50,470.53L313.90,470.51L314.10,470.44L314.50,470.07L314.70,469.97L314.90,470.03L315.50,470.47L321.70,470.78L326.90,470.90L327.10,470.84L327.30,470.53L327.50,469.34L327.90,464.28L328.00,463.86L328.10,464.09L328.30,465.62L328.70,469.41L328.90,470.37L329.10,470.79L329.30,470.93L331.10,471.04L331.30,471.01L331.50,470.86L331.90,470.23L332.00,470.18L332.10,470.21L332.70,470.90L332.90,471.03L337.30,471.21L337.50,471.18L337.70,470.98L337.90,470.24L338.30,467.03L338.40,466.77L338.50,466.91L338.70,467.89L339.10,470.29L339.30,470.90L339.50,471.17L339.90,471.29L343.70,471.42"/>
<path stroke="#14b81e" d="M25.70,442.87L31.90,442.96L38.10,443.06L44.30,443.14L49.10,443.04L49.70,442.84L50.10,442.53L50.50,441.94L51.50,439.61L51.70,439.29L51.90,439.18L52.10,439.25L52.30,439.42L53.90,442.06L54.50,442.67L55.30,443.04L61.50,443.40L67.70,443.52L73.90,443.62L80.10,443.70L84.70,443.61L85.10,443.48L85.50,443.20L85.90,442.69L86.90,440.76L87.10,440.57L87.30,440.56L87.50,440.66L87.90,441.11L89.10,442.84L89.70,443.35L90.70,443.70L96.90,443.97L103.10,443.97L109.30,443.84L115.50,443.71L121.70,443.56L127.50,443.17L129.10,442.61L130.10,441.94L130.70,441.35L130.90,441.01L131.10,439.23L131.50,432.53L132.10,417.03L133.90,349.09L134.10,344.40L134.20,343.72L134.30,344.28L134.50,348.22L136.30,410.35L137.10,430.53L137.50,437.32L137.70,439.59L137.90,440.70L138.90,441.82L139.90,442.46L146.10,443.42L152.30,443.92L158.50,444.41L164.70,444.90L170.90,445.38L177.10,445.85L183.30,446.31L189.50,446.60L190.90,446.42L191.30,446.20L191.50,445.98L191.70,445.60L191.90,444.95L192.10,443.90L192.30,442.31L192.70,437.25L193.10,430.92L193.30,428.54L193.50,427.64L193.70,428.14L193.90,429.49L194.90,440.34L195.30,443.36L195.70,445.16L195.90,445.71L196.10,446.10L196.50,446.56L202.70,447.77L208.90,448.31L215.10,448.80L217.30,448.94L217.50,448.92L217.70,448.81L217.90,448.50L218.10,447.90L218.50,446.36L218.64,446.18L218.70,446.20L218.90,446.51L219.50,448.27L219.70,448.68L219.90,448.93L220.10,449.07L226.30,449.36L232.50,449.54L238.70,449.71L244.90,449.89L251.10,450.06L257.10,450.22L263.30,450.40L269.50,450.57L275.70,450.74L281.90,450.91L288.10,451.08L290.90,451.14L291.10,451.04L291.30,450.63L291.50,449.60L291.70,448.19L291.90,447.49L292.10,447.88L292.50,449.83L292.70,450.58L292.90,450.98L293.10,451.15L293.30,451.18L293.50,451.06L293.70,450.63L294.10,449.07L294.20,448.95L294.30,449.02L294.50,449.46L294.90,450.67L295.10,451.03L295.30,451.20L301.50,451.44L304.10,451.38L304.30,451.31L304.50,451.11L304.70,450.54L304.90,449.20L305.50,441.42L305.60,441.07L305.70,441.25L305.90,442.58L306.50,448.70L306.70,449.97L306.90,450.74L307.10,451.14L307.30,451.34L313.50,451.78L314.10,451.74L314.70,451.51L315.70,451.82L321.90,452.02L327.10,452.12L327.30,451.99L327.50,451.50L327.90,449.36L328.00,449.19L328.10,449.29L328.70,451.54L328.90,451.95L329.10,452.13L331.30,452.25L331.50,452.17L331.90,451.82L332.10,451.82L332.70,452.21L337.50,452.43L337.70,452.34L337.90,452.01L338.30,450.59L338.40,450.48L338.50,450.54L339.10,452.05L339.30,452.33L339.50,452.45L343.70,452.62"/>
<path stroke="#36cd20" d="M25.70,423.17L31.90,423.26L38.10,423.36L44.30,423.45L49.30,423.39L49.90,423.21L50.30,422.93L50.90,422.18L51.50,421.25L51.70,421.05L51.90,420.98L52.10,421.03L52.50,421.31L53.90,422.82L54.70,423.29L60.90,423.70L67.10,423.82L73.30,423.92L79.50,424.01L85.10,424.00L85.90,423.75L86.90,423.11L87.30,423.05L89.70,424.01L95.90,424.27L102.10,424.30L108.30,424.17L114.50,424.03L120.70,423.89L126.90,423.64L128.90,423.17L130.10,422.51L130.90,421.78L131.10,421.48L131.30,419.82L131.70,413.38L132.30,398.36L133.90,340.09L134.10,334.06L134.30,331.52L134.50,333.62L136.50,397.78L137.10,411.67L137.50,418.14L137.70,420.26L137.90,421.17L138.90,422.23L140.10,422.92L146.30,423.75L152.50,424.27L158.70,424.77L164.90,425.27L171.10,425.77L177.30,426.26L183.30,426.72L189.50,427.02L190.70,426.88L191.10,426.73L191.30,426.59L191.50,426.36L191.70,425.96L191.90,425.29L192.10,424.19L192.30,422.52L192.70,417.23L193.10,410.60L193.30,408.11L193.50,407.17L193.70,407.69L193.90,409.10L194.90,420.45L195.30,423.62L195.70,425.50L195.90,426.08L196.10,426.48L196.50,426.97L197.50,427.45L203.70,428.32L209.90,428.86L216.10,429.37L217.50,429.44L217.70,429.38L217.90,429.21L218.50,427.98L218.64,427.88L218.90,428.08L219.50,429.13L219.70,429.38L219.90,429.54L226.10,429.89L232.30,430.09L238.50,430.30L244.70,430.50L250.90,430.70L256.90,430.90L263.10,431.10L269.30,431.30L275.50,431.51L281.70,431.71L287.90,431.91L291.10,431.98L291.30,431.87L291.70,431.23L291.90,431.04L292.10,431.15L292.70,431.89L293.10,432.06L293.50,432.05L293.70,431.94L294.10,431.54L294.30,431.53L294.90,431.98L295.30,432.13L301.50,432.33L304.10,432.29L304.30,432.23L304.50,432.02L304.70,431.45L304.90,430.11L305.50,422.33L305.60,421.99L305.70,422.17L305.90,423.50L306.50,429.62L306.70,430.90L306.90,431.66L307.10,432.07L307.30,432.27L313.50,432.73L319.70,432.94L325.90,433.15L327.10,433.17L327.30,433.11L327.50,432.86L327.90,431.80L328.00,431.72L328.10,431.77L328.70,432.91L328.90,433.11L329.30,433.24L335.50,433.46L337.50,433.51L337.70,433.47L337.90,433.31L338.30,432.61L338.40,432.56L338.50,432.59L339.10,433.36L339.30,433.50L343.70,433.73"/>
<path stroke="#64dc20" d="M25.70,405.37L31.90,405.46L38.10,405.56L44.30,405.65L49.50,405.58L50.10,405.36L50.50,405.06L51.50,403.81L51.70,403.64L51.90,403.58L52.30,403.71L53.90,405.14L54.70,405.54L60.90,405.91L67.10,406.02L73.30,406.12L79.50,406.22L85.30,406.20L87.20,405.54L90.10,406.31L96.30,406.48L102.50,406.49L108.70,406.36L114.90,406.22L121.10,406.08L127.30,405.80L129.30,405.27L130.30,404.69L131.10,403.94L131.30,402.80L131.70,397.32L132.30,384.03L134.10,325.19L134.30,321.87L134.35,321.72L134.50,322.82L134.70,326.99L136.50,380.88L137.10,393.90L137.50,400.11L137.70,402.24L137.90,403.43L138.90,404.46L140.10,405.13L146.30,405.90L152.50,406.35L158.70,406.78L164.90,407.21L171.10,407.63L177.30,408.05L183.30,408.44L189.50,408.68L190.90,408.48L191.30,408.27L191.50,408.04L191.70,407.66L191.90,407.02L192.10,405.97L192.30,404.38L192.70,399.35L193.10,393.04L193.30,390.67L193.50,389.78L193.70,390.27L193.90,391.61L194.90,402.40L195.30,405.40L195.70,407.19L195.90,407.74L196.10,408.12L196.50,408.58L202.70,409.73L208.90,410.21L215.10,410.65L217.50,410.78L217.70,410.74L217.90,410.63L218.50,409.76L218.70,409.71L218.90,409.84L219.50,410.59L219.90,410.88L226.10,411.17L232.30,411.34L238.50,411.52L244.70,411.70L250.90,411.88L256.90,412.05L263.10,412.23L269.30,412.40L275.50,412.58L281.70,412.76L287.90,412.93L291.10,413.00L291.30,412.91L291.70,412.35L291.90,412.20L292.10,412.29L292.70,412.92L293.10,413.06L293.50,413.05L293.70,412.97L294.10,412.63L294.30,412.63L295.10,413.08L301.30,413.30L304.10,413.25L304.30,413.18L304.50,412.98L304.70,412.41L304.90,411.07L305.50,403.29L305.60,402.94L305.70,403.12L305.90,404.45L306.50,410.57L306.70,411.85L306.90,412.61L307.10,413.01L307.30,413.21L313.50,413.65L319.70,413.84L325.90,414.02L327.10,414.04L327.30,414.00L327.50,413.84L327.90,413.13L328.00,413.08L328.10,413.11L328.70,413.87L328.90,414.02L334.90,414.27L337.70,414.32L337.90,414.25L338.30,413.90L338.50,413.89L339.10,414.28L343.70,414.52"/>
<path stroke="#96e428" d="M25.70,387.37L31.90,387.46L38.10,387.56L44.30,387.65L49.50,387.60L50.10,387.42L50.70,386.97L51.50,386.08L51.70,385.93L51.90,385.88L52.30,386.00L53.90,387.24L54.90,387.63L61.10,387.91L67.10,388.02L73.30,388.12L79.50,388.22L85.30,388.21L87.20,387.59L90.30,388.33L96.50,388.48L102.50,388.49L108.70,388.36L114.90,388.22L121.10,388.08L127.30,387.82L129.50,387.30L130.50,386.76L131.10,386.24L131.30,385.58L131.50,383.83L131.90,378.29L132.70,361.29L134.10,321.69L134.30,318.22L134.40,317.71L134.50,318.13L134.70,321.04L136.50,365.77L137.10,376.89L137.50,382.31L137.70,384.25L137.90,385.50L138.10,385.81L139.10,386.69L140.50,387.29L146.70,387.93L152.90,388.38L159.10,388.81L165.30,389.24L171.50,389.66L177.70,390.08L183.90,390.48L190.10,390.63L190.90,390.48L191.30,390.26L191.50,390.03L191.70,389.65L191.90,388.99L192.10,387.94L192.30,386.33L192.70,381.25L193.10,374.87L193.30,372.48L193.50,371.58L193.70,372.07L193.90,373.43L194.90,384.33L195.30,387.36L195.70,389.17L195.90,389.72L196.10,390.11L196.50,390.57L202.70,391.73L208.90,392.21L215.10,392.65L217.50,392.79L217.90,392.68L218.50,392.04L218.70,392.00L218.90,392.11L219.50,392.68L219.90,392.91L226.10,393.16L232.30,393.32L238.50,393.49L244.70,393.66L250.90,393.83L256.90,393.99L263.10,394.16L269.30,394.32L275.50,394.49L281.70,394.66L287.90,394.82L291.10,394.89L291.30,394.81L291.70,394.36L291.90,394.23L292.10,394.31L292.70,394.83L293.10,394.95L293.50,394.94L294.20,394.59L295.10,394.97L301.30,395.17L304.10,395.11L304.30,395.04L304.50,394.84L304.70,394.27L304.90,392.93L305.50,385.15L305.60,384.80L305.70,384.98L305.90,386.31L306.50,392.43L306.70,393.70L306.90,394.47L307.10,394.87L307.30,395.07L313.50,395.50L319.70,395.68L325.90,395.84L327.30,395.85L327.50,395.77L327.90,395.43L328.10,395.42L328.70,395.81L334.90,396.09L337.70,396.14L338.40,395.88L339.30,396.18L343.70,396.32"/>
</g>
<rect x="27.70" y="295.65" width="315.10" height="240.85" fill="none" stroke="#000" stroke-width="1.9"/>
<text x="67.7" y="559.1" font-size="16.0" text-anchor="middle">2.4</text>
<text x="110.0" y="559.1" font-size="16.0" text-anchor="middle">2.2</text>
<text x="152.4" y="559.1" font-size="16.0" text-anchor="middle">2.0</text>
<text x="194.7" y="559.1" font-size="16.0" text-anchor="middle">1.8</text>
<text x="237.1" y="559.1" font-size="16.0" text-anchor="middle">1.6</text>
<text x="279.4" y="559.1" font-size="16.0" text-anchor="middle">1.4</text>
<text x="321.7" y="559.1" font-size="16.0" text-anchor="middle">1.2</text>
<path d="M46.53,537.00v2.90M67.70,537.00v5.30M88.87,537.00v2.90M110.04,537.00v5.30M131.21,537.00v2.90M152.38,537.00v5.30M173.55,537.00v2.90M194.72,537.00v5.30M215.89,537.00v2.90M237.06,537.00v5.30M258.23,537.00v2.90M279.40,537.00v5.30M300.57,537.00v2.90M321.74,537.00v5.30M342.80,537.00v2.90" stroke="#000" stroke-width="1.6" fill="none"/>
<text x="185.2" y="579.6" font-size="17.6" text-anchor="middle">d spacing (Å)</text>
<text transform="translate(22.5,432.3) rotate(-90) scale(1,0.92)" font-size="17.8" text-anchor="middle">Intensity</text>
<text x="32.8" y="317.7" font-size="21.3" text-anchor="start">(c)</text>
<circle cx="134.4" cy="301.3" r="4.00" fill="#e86f30"/>
<path d="M134.4,305.6L139.8,315.3L129.0,315.3Z" fill="#18607f"/>
<circle cx="193.9" cy="362.1" r="4.00" fill="#e86f30"/>
<circle cx="305.7" cy="373.9" r="4.00" fill="#e86f30"/>
<path d="M52.3,367.5L57.7,377.2L46.9,377.2Z" fill="#18607f"/>
<path d="M87.3,367.9L92.7,377.6L81.9,377.6Z" fill="#18607f"/>
<path d="M219.2,370.2L224.6,379.9L213.8,379.9Z" fill="#18607f"/>
<path d="M291.1,373.0L296.5,382.7L285.7,382.7Z" fill="#18607f"/>
<text x="54.5" y="366.3" font-size="12.0" text-anchor="middle">(002)</text>
<text x="88.2" y="365.5" font-size="12.0" text-anchor="middle">(100)</text>
<text x="219.7" y="367.3" font-size="12.0" text-anchor="middle">(102)</text>
<text x="288.3" y="369.3" font-size="12.0" text-anchor="middle">(103)</text>
<circle cx="303.4" cy="311.4" r="4.10" fill="#e86f30"/>
<path d="M303.4,320.1L309.0,330.1L297.8,330.1Z" fill="#18607f"/>
<text x="312.6" y="313.3" font-size="14.0" text-anchor="start">Cu</text>
<text x="312.8" y="332.1" font-size="14.0" text-anchor="start">Zn</text>
<path d="M392.30,382.00V530.00" stroke="#505050" stroke-width="1.25" stroke-dasharray="5.45 3.48" fill="none"/>
<path d="M427.20,377.17V532.50" stroke="#505050" stroke-width="1.25" stroke-dasharray="5.45 3.48" fill="none"/>
<g fill="none" stroke-width="2.15" stroke-linejoin="round" stroke-linecap="butt">
<path stroke="#3e46e8" d="M366.10,519.17L372.30,519.24L378.50,519.31L384.70,519.36L389.50,519.20L389.90,519.09L390.30,518.80L390.50,518.53L390.70,518.12L391.10,516.76L391.90,512.44L392.10,511.67L392.30,511.39L392.50,511.54L392.70,511.97L393.90,516.57L394.30,517.70L394.70,518.44L395.10,518.87L395.70,519.17L401.90,519.56L408.10,519.66L414.30,519.72L420.50,519.71L423.90,519.41L424.50,519.20L424.90,518.91L425.10,518.65L425.30,518.24L425.50,517.60L425.70,516.62L425.90,515.18L426.30,510.65L427.10,498.13L427.30,496.53L427.40,496.32L427.50,496.43L427.70,497.28L428.10,500.94L429.10,512.30L429.50,515.30L429.90,517.19L430.30,518.26L430.70,518.83L431.30,519.23L437.50,519.93L443.70,520.07L449.90,520.17L456.10,520.25L462.30,520.30L467.70,520.12L468.90,519.74L469.70,519.23L470.50,518.34L471.10,517.33L471.30,516.30L471.50,513.17L471.90,502.95L472.70,471.45L473.90,409.95L474.10,403.37L474.20,402.39L474.30,403.20L474.50,408.78L476.10,481.05L476.70,501.42L477.10,511.21L477.30,514.60L477.50,516.54L478.50,518.33L479.30,519.26L480.30,519.93L486.50,520.70L492.70,521.05L498.90,521.37L505.10,521.69L511.30,522.06L517.50,522.43L523.70,522.79L529.90,523.03L531.50,522.84L531.90,522.66L532.10,522.48L532.30,522.17L532.50,521.66L532.70,520.83L532.90,519.57L533.30,515.59L533.70,510.61L533.90,508.74L534.10,508.03L534.30,508.41L534.50,509.47L535.50,517.95L535.90,520.32L536.30,521.72L536.50,522.14L536.90,522.65L537.50,522.98L543.70,523.59L549.90,523.84L556.10,524.04L557.70,524.03L557.90,523.98L558.10,523.81L558.30,523.26L558.50,521.94L559.10,514.39L559.20,514.06L559.30,514.24L559.50,515.49L560.10,521.47L560.30,522.72L560.50,523.46L560.70,523.85L560.90,524.02L567.10,524.32L573.30,524.45L579.50,524.56L585.70,524.68L591.90,524.80L598.10,524.90L604.30,524.93L610.50,524.96L616.70,524.99L622.90,525.02L629.10,525.05L630.90,525.02L631.10,524.81L631.30,523.96L631.50,521.87L631.70,519.00L631.90,517.56L632.10,518.34L632.50,522.28L632.70,523.78L632.90,524.58L633.10,524.90L633.30,524.87L633.50,524.15L633.70,521.78L634.10,513.22L634.20,512.57L634.30,512.91L634.50,515.32L634.90,521.83L635.10,523.73L635.30,524.63L635.50,524.95L635.70,525.05L641.90,525.09L644.30,525.00L644.50,524.94L644.70,524.78L644.90,524.32L645.10,523.26L645.70,517.10L645.80,516.82L645.90,516.97L646.10,518.02L646.70,522.84L646.90,523.84L647.10,524.44L647.30,524.76L647.50,524.91L653.70,525.13L653.90,525.06L654.10,524.85L654.50,524.20L654.60,524.16L654.70,524.18L655.30,524.86L655.50,525.03L655.90,525.15L662.10,525.19L666.70,525.15L666.90,525.03L667.10,524.37L667.30,521.94L667.70,511.59L667.80,510.72L667.90,511.18L668.10,514.30L668.50,522.00L668.70,523.96L668.90,524.80L669.10,525.07L670.70,525.21L670.90,525.17L671.10,524.94L671.30,524.27L671.50,523.26L671.70,522.73L671.90,523.02L672.30,524.42L672.50,524.90L672.70,525.13L673.10,525.24L677.10,525.23L677.30,525.19L677.50,524.99L677.70,524.06L677.90,521.44L678.10,517.44L678.30,515.27L678.50,516.46L678.90,521.98L679.10,523.85L679.30,524.76L679.50,525.10L679.70,525.21L684.70,525.30"/>
<path stroke="#316eba" d="M366.10,501.77L372.30,501.85L378.50,501.92L384.70,501.99L389.90,501.92L390.30,501.81L390.70,501.55L391.10,501.04L391.90,499.39L392.10,499.10L392.30,498.99L392.50,499.05L392.90,499.46L393.90,500.98L394.50,501.58L395.10,501.87L401.30,502.18L407.50,502.26L413.70,502.33L419.90,502.34L423.90,502.07L424.50,501.89L424.90,501.64L425.10,501.41L425.30,501.05L425.50,500.49L425.70,499.63L425.90,498.39L426.30,494.43L427.10,483.50L427.30,482.11L427.40,481.92L427.50,482.02L427.70,482.76L428.10,485.96L429.10,495.88L429.50,498.49L429.90,500.14L430.30,501.07L430.70,501.57L431.30,501.93L437.50,502.54L443.70,502.68L449.90,502.77L456.10,502.85L462.30,502.91L467.90,502.73L469.10,502.35L469.90,501.82L470.50,501.18L471.30,499.85L471.50,498.36L471.70,494.89L472.10,484.23L472.90,452.24L474.10,392.66L474.30,388.99L474.50,392.05L476.30,469.87L476.90,488.43L477.30,496.63L477.50,498.91L477.70,499.47L478.70,501.15L479.50,502.01L480.50,502.61L486.70,503.31L492.90,503.66L499.10,503.98L505.30,504.30L511.50,504.67L517.70,505.04L523.90,505.40L530.10,505.60L531.50,505.38L531.90,505.17L532.10,504.96L532.30,504.62L532.50,504.04L532.70,503.11L532.90,501.69L533.30,497.21L533.70,491.61L533.90,489.50L534.10,488.71L534.30,489.13L534.50,490.32L535.50,499.84L535.90,502.50L536.30,504.07L536.50,504.54L536.90,505.11L537.30,505.38L543.50,506.08L549.70,506.29L555.90,506.46L557.70,506.47L557.90,506.43L558.10,506.29L558.30,505.88L558.50,504.87L559.10,499.11L559.20,498.87L559.30,499.00L559.50,499.96L560.10,504.51L560.30,505.46L560.50,506.03L560.70,506.32L560.90,506.46L567.10,506.63L573.30,506.67L579.50,506.70L585.70,506.74L591.90,506.77L598.10,506.80L604.30,506.85L610.50,506.89L616.70,506.93L622.90,506.98L629.10,507.02L630.90,507.01L631.10,506.89L631.30,506.38L631.50,505.12L631.70,503.40L631.90,502.54L632.10,503.01L632.50,505.37L632.70,506.27L632.90,506.76L633.10,506.94L633.30,506.88L633.50,506.26L633.70,504.21L634.10,496.81L634.20,496.25L634.30,496.55L634.50,498.63L634.90,504.26L635.10,505.90L635.30,506.68L635.50,506.96L635.70,507.04L641.90,507.09L644.30,507.01L644.50,506.95L644.70,506.79L644.90,506.33L645.10,505.27L645.70,499.11L645.80,498.84L645.90,498.98L646.10,500.03L646.70,504.86L646.90,505.86L647.10,506.46L647.30,506.78L647.50,506.93L653.70,507.17L653.90,507.11L654.10,506.94L654.50,506.43L654.70,506.41L655.50,507.09L661.70,507.24L666.70,507.22L666.90,507.13L667.10,506.60L667.30,504.68L667.70,496.47L667.80,495.79L667.90,496.15L668.10,498.62L668.50,504.73L668.70,506.29L668.90,506.95L669.10,507.17L670.70,507.29L670.90,507.25L671.10,507.07L671.30,506.54L671.50,505.73L671.70,505.30L671.90,505.54L672.30,506.66L672.50,507.04L672.70,507.22L677.10,507.31L677.30,507.28L677.50,507.09L677.70,506.21L677.90,503.72L678.10,499.91L678.30,497.86L678.50,498.99L678.90,504.24L679.10,506.01L679.30,506.88L679.50,507.20L679.70,507.30L684.70,507.40"/>
<path stroke="#1f8a7a" d="M366.10,482.97L372.30,483.05L378.50,483.12L384.70,483.19L389.90,483.14L390.50,482.97L390.90,482.66L391.90,481.03L392.10,480.78L392.30,480.69L392.50,480.74L392.90,481.09L394.10,482.57L394.70,482.98L400.90,483.38L407.10,483.46L413.30,483.53L419.50,483.57L424.30,483.32L424.90,483.10L425.10,482.94L425.30,482.69L425.50,482.31L425.70,481.71L425.90,480.85L426.30,478.10L427.10,470.52L427.30,469.55L427.40,469.42L427.50,469.49L427.70,470.01L428.10,472.23L429.10,479.12L429.50,480.93L429.90,482.08L430.30,482.73L430.70,483.08L436.90,483.76L443.10,483.88L449.30,483.97L455.50,484.05L461.70,484.11L467.90,483.99L469.30,483.60L470.10,483.09L470.90,482.21L471.50,481.22L471.70,479.26L472.10,470.64L472.70,450.22L474.10,383.60L474.30,377.16L474.40,376.19L474.50,377.00L474.70,382.46L476.30,450.85L476.90,469.36L477.30,477.72L477.50,480.22L477.70,480.96L478.70,482.51L479.50,483.31L480.50,483.86L486.70,484.52L492.90,484.86L499.10,485.19L505.30,485.50L511.50,485.88L517.70,486.24L523.90,486.60L530.10,486.80L531.50,486.57L531.90,486.36L532.10,486.16L532.30,485.82L532.50,485.25L532.70,484.33L532.90,482.95L533.30,478.57L533.70,473.09L533.90,471.03L534.10,470.25L534.30,470.67L534.50,471.82L535.50,481.11L535.90,483.70L536.30,485.23L536.50,485.69L536.90,486.24L537.50,486.58L543.70,487.11L549.90,487.24L556.10,487.32L557.90,487.28L558.10,487.17L558.30,486.84L558.50,486.04L559.10,481.47L559.20,481.28L559.30,481.38L559.50,482.14L560.10,485.74L560.30,486.50L560.50,486.95L560.70,487.18L561.10,487.34L567.30,487.49L573.50,487.58L579.70,487.66L585.90,487.75L592.10,487.83L598.30,487.91L604.50,487.95L610.70,487.99L616.90,488.04L623.10,488.08L629.30,488.12L630.90,488.11L631.10,487.99L631.30,487.48L631.50,486.22L631.70,484.50L631.90,483.64L632.10,484.11L632.50,486.47L632.70,487.37L632.90,487.86L633.10,488.05L633.30,488.04L633.50,487.67L633.70,486.44L634.10,481.99L634.20,481.65L634.30,481.83L634.50,483.08L634.90,486.47L635.10,487.46L635.30,487.93L635.50,488.10L641.70,488.19L644.30,488.09L644.50,488.03L644.70,487.84L644.90,487.31L645.10,486.08L645.70,478.95L645.80,478.64L645.90,478.80L646.10,480.01L646.70,485.60L646.90,486.76L647.10,487.45L647.30,487.82L647.50,487.99L653.70,488.26L653.90,488.21L654.10,488.04L654.50,487.53L654.70,487.51L655.50,488.19L661.70,488.34L666.70,488.33L666.90,488.26L667.10,487.86L667.30,486.39L667.70,480.11L667.80,479.59L667.90,479.86L668.10,481.76L668.50,486.43L668.70,487.63L668.90,488.13L669.10,488.30L670.70,488.39L670.90,488.37L671.10,488.23L671.30,487.83L671.50,487.23L671.70,486.91L671.90,487.08L672.30,487.92L672.50,488.21L672.70,488.35L677.30,488.40L677.50,488.26L677.70,487.61L677.90,485.78L678.10,482.97L678.30,481.46L678.50,482.29L678.90,486.16L679.10,487.47L679.30,488.11L679.50,488.35L684.70,488.50"/>
<path stroke="#17a33c" d="M366.10,463.37L372.30,463.45L378.50,463.52L384.70,463.59L390.10,463.53L390.50,463.40L390.90,463.13L391.90,461.69L392.10,461.47L392.30,461.39L392.50,461.44L392.90,461.74L394.10,463.06L394.70,463.42L400.90,463.78L407.10,463.87L413.30,463.94L419.50,463.99L424.50,463.82L425.10,463.60L425.30,463.44L425.50,463.18L425.70,462.79L425.90,462.23L426.30,460.42L427.10,455.44L427.30,454.81L427.40,454.72L427.50,454.77L427.70,455.11L428.10,456.57L429.10,461.10L429.50,462.30L429.90,463.05L430.30,463.48L430.90,463.78L437.10,464.19L443.30,464.30L449.50,464.38L455.70,464.45L461.90,464.52L468.10,464.39L469.30,464.07L470.10,463.61L470.90,462.81L471.50,461.89L471.70,461.05L471.90,458.23L472.30,448.89L473.10,419.95L474.30,365.03L474.50,361.60L474.70,364.47L476.50,436.04L477.10,452.68L477.50,459.70L477.70,461.25L478.70,462.82L479.50,463.65L480.50,464.24L486.70,464.92L492.90,465.26L499.10,465.59L505.30,465.90L511.50,466.28L517.70,466.64L523.90,467.00L530.10,467.20L531.50,467.00L531.90,466.80L532.10,466.60L532.30,466.26L532.50,465.69L532.70,464.77L532.90,463.37L533.30,458.95L533.70,453.41L533.90,451.33L534.10,450.55L534.30,450.97L534.50,452.14L535.50,461.57L535.90,464.20L536.30,465.75L536.50,466.23L536.90,466.79L537.50,467.15L543.70,467.83L549.90,468.10L556.10,468.33L557.90,468.35L558.10,468.28L558.30,468.05L558.50,467.50L559.10,464.29L559.20,464.16L559.30,464.24L559.50,464.78L560.10,467.33L560.30,467.86L560.50,468.18L560.70,468.34L566.90,468.53L573.10,468.56L579.30,468.60L585.50,468.63L591.70,468.67L597.90,468.71L604.10,468.78L610.30,468.85L616.50,468.92L622.70,468.99L628.90,469.06L630.90,469.07L631.10,468.98L631.30,468.61L631.50,467.69L631.70,466.43L631.90,465.80L632.10,466.15L632.50,467.88L632.70,468.54L632.90,468.90L633.10,469.04L633.30,469.02L633.50,468.69L633.70,467.59L634.10,463.62L634.20,463.32L634.30,463.48L634.50,464.60L634.90,467.63L635.10,468.51L635.30,468.93L635.50,469.08L641.70,469.20L644.30,469.11L644.50,469.05L644.70,468.87L644.90,468.36L645.10,467.17L645.70,460.27L645.80,459.96L645.90,460.12L646.10,461.30L646.70,466.71L646.90,467.83L647.10,468.51L647.30,468.86L647.50,469.03L653.70,469.33L653.90,469.30L654.50,468.88L654.70,468.87L655.50,469.30L661.70,469.44L666.70,469.46L666.90,469.41L667.10,469.09L667.30,467.92L667.70,462.93L667.80,462.51L667.90,462.73L668.10,464.24L668.50,467.96L668.70,468.91L668.90,469.32L669.10,469.45L670.90,469.53L671.10,469.46L671.30,469.28L671.50,469.00L671.70,468.85L671.90,468.94L672.30,469.33L672.50,469.47L677.30,469.59L677.50,469.51L677.70,469.13L677.90,468.06L678.10,466.42L678.30,465.53L678.50,466.02L678.90,468.29L679.10,469.06L679.30,469.43L679.50,469.58L684.70,469.71"/>
<path stroke="#14b81e" d="M366.10,444.47L372.30,444.55L378.50,444.62L384.70,444.67L389.70,444.53L390.10,444.39L390.50,444.04L390.70,443.72L391.10,442.67L391.90,439.31L392.10,438.71L392.30,438.50L392.50,438.61L392.70,438.94L393.90,442.53L394.30,443.41L394.70,443.98L395.10,444.32L401.30,444.87L407.50,444.97L413.70,445.05L419.90,445.11L424.90,445.02L425.30,444.91L425.70,444.63L426.10,444.04L427.10,441.43L427.30,441.16L427.50,441.14L427.70,441.29L428.10,441.93L429.10,443.92L429.50,444.44L429.90,444.77L430.70,445.07L436.90,445.32L443.10,445.40L449.30,445.48L455.50,445.55L461.70,445.62L467.90,445.55L469.30,445.26L470.10,444.87L470.90,444.15L471.70,442.96L471.90,441.74L472.10,438.67L472.50,429.15L473.30,400.48L474.30,355.54L474.50,349.60L474.60,348.70L474.70,349.44L474.90,354.49L476.50,416.68L477.10,433.20L477.50,440.39L477.70,442.26L478.70,443.89L479.50,444.73L480.50,445.33L486.70,446.00L492.90,446.32L499.10,446.61L505.30,446.91L511.50,447.33L517.70,447.75L523.90,448.15L530.10,448.40L531.50,448.17L531.90,447.96L532.10,447.76L532.30,447.41L532.50,446.84L532.70,445.90L532.90,444.50L533.30,440.04L533.70,434.47L533.90,432.37L534.10,431.58L534.30,432.00L534.50,433.18L535.50,442.64L535.90,445.28L536.30,446.84L536.50,447.31L536.90,447.87L537.30,448.14L543.50,448.80L549.70,448.97L555.90,449.10L557.90,449.11L558.10,449.07L558.30,448.94L558.50,448.61L559.10,446.75L559.20,446.67L559.30,446.72L559.50,447.03L560.10,448.52L560.30,448.83L560.50,449.02L560.90,449.16L567.10,449.31L573.30,449.41L579.50,449.51L585.70,449.61L591.90,449.71L598.10,449.81L604.30,449.88L610.50,449.95L616.70,450.02L622.90,450.10L629.10,450.17L630.90,450.18L631.10,450.11L631.30,449.83L631.50,449.13L631.70,448.18L631.90,447.70L632.10,447.96L632.50,449.28L632.70,449.78L632.90,450.05L633.10,450.16L633.30,450.17L633.50,450.03L633.70,449.56L634.10,447.85L634.20,447.72L634.30,447.79L634.50,448.28L634.90,449.58L635.10,449.97L635.30,450.15L641.50,450.30L644.30,450.23L644.50,450.18L644.70,450.03L644.90,449.59L645.10,448.58L645.70,442.72L645.80,442.46L645.90,442.60L646.10,443.60L646.70,448.19L646.90,449.15L647.10,449.72L647.30,450.02L647.50,450.17L653.70,450.44L654.10,450.36L654.60,450.16L655.70,450.45L661.90,450.54L666.90,450.56L667.10,450.41L667.30,449.86L667.70,447.51L667.80,447.31L667.90,447.42L668.50,449.89L668.70,450.33L668.90,450.53L670.90,450.64L671.10,450.60L671.70,450.25L672.50,450.61L677.30,450.70L677.50,450.66L677.70,450.45L677.90,449.85L678.10,448.93L678.30,448.43L678.50,448.71L678.90,449.98L679.10,450.41L679.30,450.63L684.70,450.81"/>
<path stroke="#36cd20" d="M366.10,424.87L372.30,424.95L378.50,425.02L384.70,425.10L390.10,425.07L390.70,424.89L391.10,424.61L391.90,423.71L392.10,423.55L392.30,423.50L392.70,423.62L394.10,424.73L394.90,425.05L401.10,425.29L407.30,425.38L413.50,425.45L419.70,425.53L425.70,425.49L427.30,424.83L427.90,424.92L429.70,425.53L435.90,425.72L442.10,425.80L448.30,425.88L454.50,425.95L460.70,426.01L466.90,426.03L469.30,425.77L470.30,425.35L471.10,424.68L471.90,423.60L472.10,422.01L472.50,414.60L473.10,396.85L474.50,340.30L474.70,337.10L474.90,339.78L476.50,397.77L477.10,413.76L477.50,420.88L477.70,422.92L477.90,423.43L478.90,424.73L479.90,425.52L481.50,426.05L487.70,426.55L493.90,426.97L500.10,427.37L506.30,427.77L512.50,428.17L518.70,428.56L524.90,428.93L530.90,429.03L531.70,428.82L531.90,428.70L532.10,428.50L532.30,428.17L532.50,427.60L532.70,426.68L532.90,425.29L533.30,420.90L533.70,415.40L533.90,413.33L534.10,412.55L534.30,412.97L534.50,414.13L535.50,423.51L535.90,426.12L536.30,427.66L536.50,428.13L536.90,428.69L537.50,429.06L543.70,429.73L549.90,430.00L556.10,430.24L558.10,430.28L558.30,430.21L558.50,430.05L559.10,429.10L559.20,429.06L559.30,429.09L559.50,429.25L560.10,430.04L560.50,430.30L566.70,430.46L572.90,430.53L579.10,430.60L585.30,430.67L591.50,430.74L597.70,430.81L603.90,430.95L610.10,431.08L616.30,431.22L622.50,431.36L628.70,431.49L631.10,431.51L631.30,431.40L631.70,430.75L631.90,430.56L632.10,430.67L632.70,431.41L633.10,431.57L633.50,431.52L633.70,431.34L634.10,430.66L634.20,430.61L634.30,430.64L634.90,431.37L635.10,431.52L641.30,431.75L644.30,431.72L644.50,431.66L644.70,431.50L644.90,431.05L645.10,429.99L645.70,423.84L645.80,423.56L645.90,423.71L646.10,424.76L646.70,429.60L646.90,430.60L647.10,431.21L647.30,431.53L647.50,431.68L653.70,432.03L659.90,432.17L666.10,432.31L666.90,432.31L667.10,432.25L667.30,432.04L667.70,431.12L667.80,431.04L667.90,431.09L668.50,432.07L668.70,432.25L674.90,432.50L677.50,432.53L677.70,432.45L677.90,432.22L678.10,431.87L678.30,431.67L678.50,431.79L678.90,432.29L679.10,432.46L679.50,432.59L684.70,432.71"/>
<path stroke="#64dc20" d="M366.10,405.57L372.30,405.65L378.50,405.73L384.70,405.80L390.50,405.78L391.30,405.52L392.10,405.12L392.50,405.11L394.70,405.82L400.90,406.00L407.10,406.07L413.30,406.15L419.50,406.23L425.70,406.22L427.40,405.72L433.50,406.39L439.70,406.47L445.90,406.55L452.10,406.62L458.30,406.69L464.50,406.74L469.10,406.57L470.30,406.17L471.10,405.59L471.90,404.63L472.10,404.01L472.30,401.78L472.70,394.26L473.50,370.85L474.50,333.56L474.70,328.56L474.80,327.80L474.90,328.43L475.10,332.69L476.70,384.16L477.30,397.51L477.50,400.69L477.70,403.04L477.90,404.12L478.90,405.41L479.90,406.20L481.50,406.74L487.70,407.17L493.90,407.47L500.10,407.76L506.30,408.08L512.50,408.50L518.70,408.91L524.90,409.31L530.90,409.45L531.70,409.26L532.10,408.97L532.30,408.65L532.50,408.11L532.70,407.24L532.90,405.92L533.30,401.74L533.70,396.50L533.90,394.53L534.10,393.79L534.30,394.19L534.50,395.31L535.50,404.24L535.90,406.74L536.30,408.22L536.50,408.67L536.90,409.20L537.50,409.56L543.70,410.27L549.90,410.60L556.10,410.90L558.10,410.97L558.50,410.84L559.10,410.27L559.30,410.27L560.10,410.88L560.50,411.04L566.70,411.22L572.90,411.34L579.10,411.46L585.30,411.58L591.50,411.69L597.70,411.81L603.90,411.90L610.10,411.99L616.30,412.09L622.50,412.18L628.70,412.27L631.10,412.29L631.30,412.22L631.70,411.83L631.90,411.72L632.10,411.78L632.70,412.23L633.30,412.33L633.50,412.30L633.70,412.19L634.10,411.78L634.30,411.77L634.90,412.21L635.30,412.35L641.50,412.45L644.30,412.39L644.50,412.34L644.70,412.17L644.90,411.72L645.10,410.66L645.70,404.50L645.80,404.23L645.90,404.37L646.10,405.42L646.70,410.26L646.90,411.26L647.10,411.86L647.30,412.18L647.50,412.33L653.70,412.64L659.90,412.74L666.10,412.83L667.10,412.81L667.30,412.71L667.70,412.29L667.90,412.28L668.50,412.73L668.90,412.86L675.10,412.97L677.50,412.99L677.70,412.95L678.30,412.56L678.50,412.62L679.10,412.96L684.70,413.11"/>
<path stroke="#96e428" d="M366.10,387.97L372.30,388.05L378.50,388.13L384.70,388.20L390.50,388.18L391.30,387.92L392.10,387.52L392.50,387.51L394.70,388.22L400.90,388.40L407.10,388.47L413.30,388.55L419.50,388.63L425.70,388.62L427.40,388.12L433.50,388.79L439.70,388.87L445.90,388.95L452.10,389.02L458.30,389.09L464.50,389.15L469.50,388.95L470.50,388.63L471.30,388.10L472.10,387.21L472.30,386.08L472.70,380.99L473.30,368.91L474.70,330.74L474.90,328.60L475.10,330.39L476.70,369.39L477.30,380.24L477.70,385.11L477.90,386.53L478.10,386.93L479.10,388.05L480.10,388.72L486.30,389.52L492.50,389.89L498.70,390.24L504.90,390.58L511.10,390.83L517.30,391.07L523.50,391.30L529.70,391.39L531.30,391.19L531.70,391.03L531.90,390.89L532.10,390.65L532.30,390.25L532.50,389.57L532.70,388.48L532.90,386.82L533.30,381.57L533.70,374.99L533.90,372.52L534.10,371.59L534.30,372.09L534.50,373.49L535.50,384.69L535.90,387.81L536.30,389.66L536.50,390.23L536.70,390.62L537.10,391.09L537.90,391.48L544.10,392.18L550.30,392.52L556.50,392.82L558.10,392.87L558.50,392.76L559.10,392.27L559.30,392.27L560.30,392.89L566.50,393.10L572.70,393.20L578.90,393.30L585.10,393.40L591.30,393.50L597.50,393.60L603.70,393.65L609.90,393.70L616.10,393.75L622.30,393.80L628.50,393.85L631.10,393.86L631.30,393.82L631.70,393.55L631.90,393.48L632.90,393.86L633.50,393.86L634.20,393.50L635.10,393.86L641.30,393.94L644.30,393.87L644.50,393.82L644.70,393.66L644.90,393.23L645.10,392.22L645.70,386.35L645.80,386.09L645.90,386.23L646.10,387.23L646.70,391.82L646.90,392.78L647.10,393.35L647.30,393.65L647.50,393.80L653.70,394.05L659.90,394.10L666.10,394.15L667.10,394.14L667.30,394.07L667.70,393.79L667.90,393.78L668.50,394.09L674.70,394.22L677.70,394.21L678.30,393.95L679.30,394.25L684.70,394.31"/>
</g>
<rect x="368.10" y="295.20" width="315.90" height="240.90" fill="none" stroke="#000" stroke-width="1.9"/>
<text x="408.5" y="558.8" font-size="16.0" text-anchor="middle">2.4</text>
<text x="450.8" y="558.8" font-size="16.0" text-anchor="middle">2.2</text>
<text x="493.1" y="558.8" font-size="16.0" text-anchor="middle">2.0</text>
<text x="535.5" y="558.8" font-size="16.0" text-anchor="middle">1.8</text>
<text x="577.8" y="558.8" font-size="16.0" text-anchor="middle">1.6</text>
<text x="620.1" y="558.8" font-size="16.0" text-anchor="middle">1.4</text>
<text x="662.4" y="558.8" font-size="16.0" text-anchor="middle">1.2</text>
<path d="M387.34,536.60v2.90M408.50,536.60v5.30M429.66,536.60v2.90M450.82,536.60v5.30M471.98,536.60v2.90M493.14,536.60v5.30M514.30,536.60v2.90M535.46,536.60v5.30M556.62,536.60v2.90M577.78,536.60v5.30M598.94,536.60v2.90M620.10,536.60v5.30M641.26,536.60v2.90M662.42,536.60v5.30M683.58,536.60v2.90" stroke="#000" stroke-width="1.6" fill="none"/>
<text x="525.8" y="578.7" font-size="17.6" text-anchor="middle">d spacing (Å)</text>
<text transform="translate(361.5,432.8) rotate(-90) scale(1,0.92)" font-size="17.8" text-anchor="middle">Intensity</text>
<text x="373.7" y="316.0" font-size="21.3" text-anchor="start">(d)</text>
<circle cx="475.0" cy="309.3" r="4.00" fill="#e86f30"/>
<path d="M475.0,314.4L480.4,324.1L469.6,324.1Z" fill="#18607f"/>
<circle cx="534.4" cy="365.9" r="4.00" fill="#e86f30"/>
<circle cx="646.2" cy="377.9" r="4.00" fill="#e86f30"/>
<path d="M393.0,371.3L398.4,381.0L387.6,381.0Z" fill="#18607f"/>
<path d="M427.6,371.8L433.0,381.5L422.2,381.5Z" fill="#18607f"/>
<path d="M559.7,374.0L565.1,383.7L554.3,383.7Z" fill="#18607f"/>
<path d="M631.8,376.7L637.2,386.4L626.4,386.4Z" fill="#18607f"/>
<text x="395.3" y="369.8" font-size="12.0" text-anchor="middle">(002)</text>
<text x="427.2" y="369.3" font-size="12.0" text-anchor="middle">(100)</text>
<text x="560.2" y="371.3" font-size="12.0" text-anchor="middle">(102)</text>
<text x="629.1" y="373.0" font-size="12.0" text-anchor="middle">(103)</text>
<circle cx="644.2" cy="315.1" r="4.10" fill="#e86f30"/>
<path d="M644.2,324.6L649.8,334.6L638.6,334.6Z" fill="#18607f"/>
<text x="654.4" y="319.2" font-size="14.0" text-anchor="start">Cu</text>
<text x="654.6" y="337.1" font-size="14.0" text-anchor="start">Zn</text>
</svg>
</body>
</html>
